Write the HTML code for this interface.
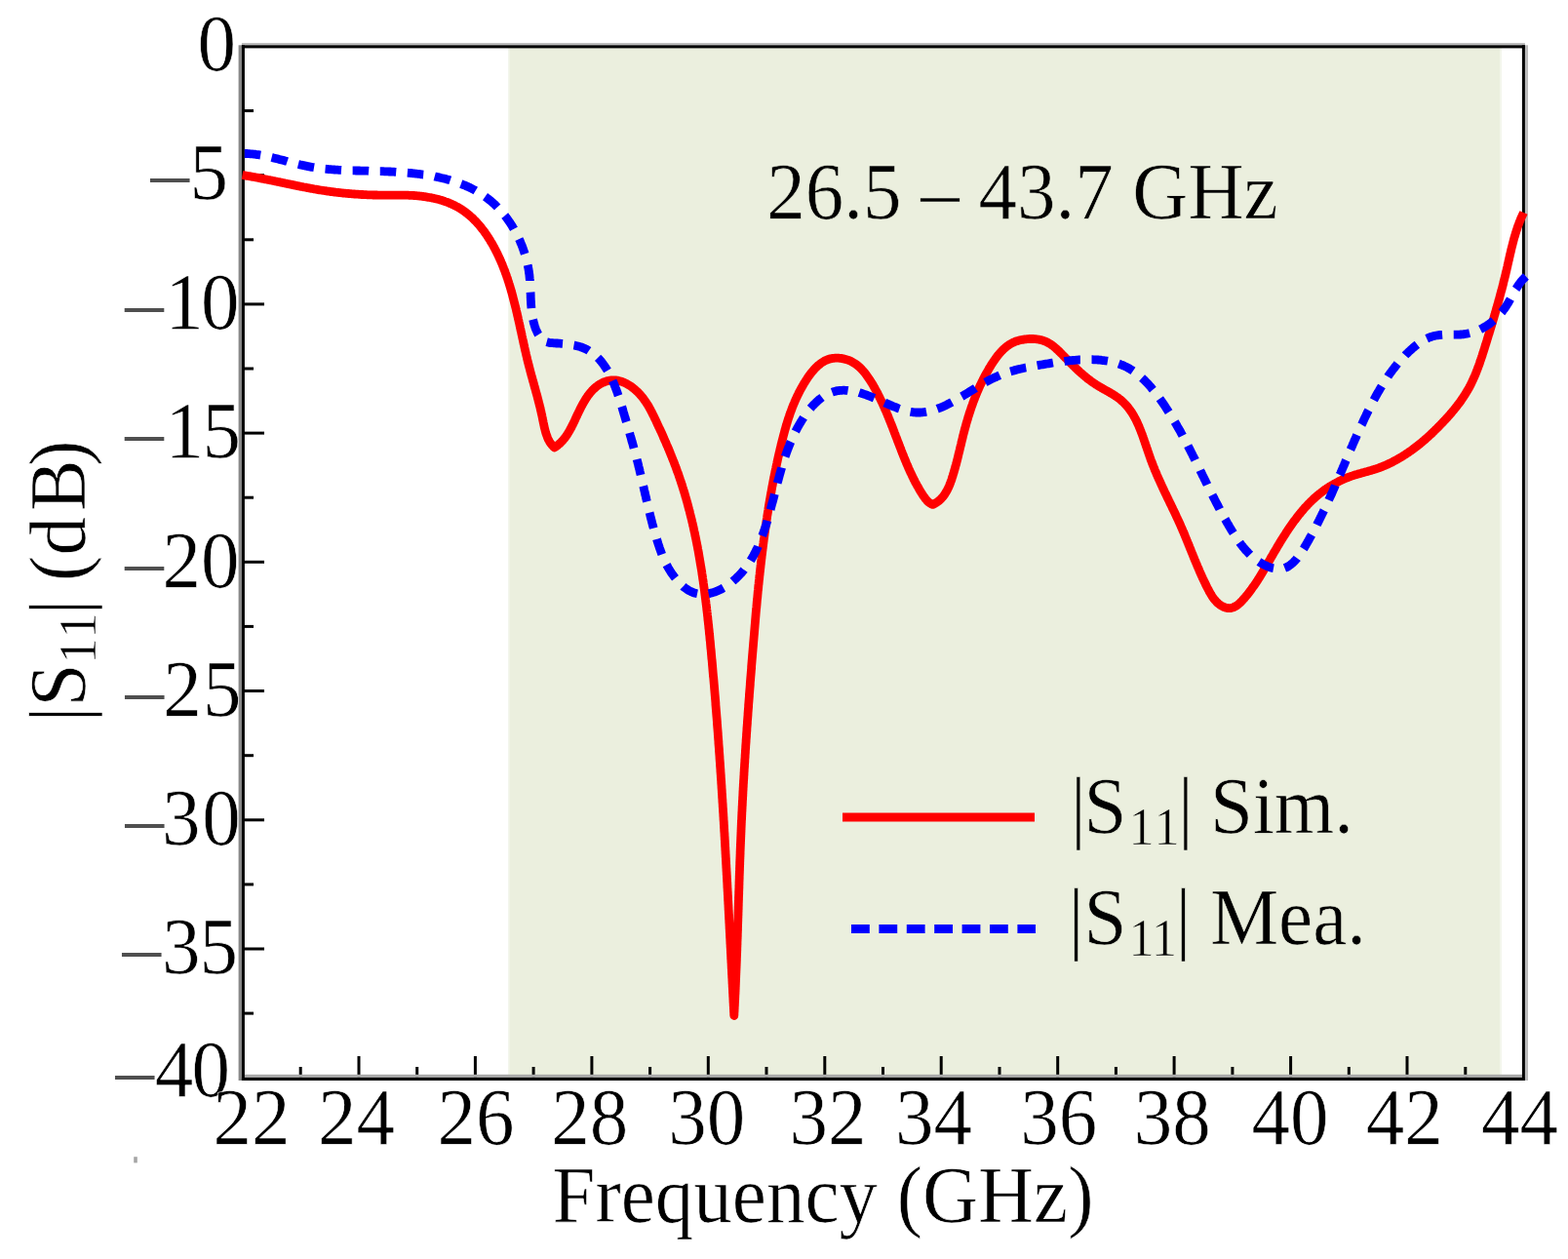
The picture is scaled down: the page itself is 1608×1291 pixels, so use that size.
<!DOCTYPE html>
<html><head><meta charset="utf-8"><title>S11</title>
<style>
html,body{margin:0;padding:0;background:#fff;}
body{width:1608px;height:1291px;overflow:hidden;}
svg{display:block;}
.t{font-family:"Liberation Serif","Times New Roman",serif;font-size:79px;fill:#000;stroke:#fff;stroke-width:0.6px;stroke-linejoin:round;}
.s{stroke:#EBEFDE;}
.d{fill:#505050;stroke:none;}
</style></head><body>
<svg width="1608" height="1291" viewBox="0 0 1608 1291">
<defs><filter id="soft" x="0" y="0" width="1608" height="1291" filterUnits="userSpaceOnUse"><feGaussianBlur stdDeviation="0.55"/></filter></defs>
<g filter="url(#soft)">
<rect x="0" y="0" width="1608" height="1291" fill="#fff"/>
<rect x="521" y="48" width="1018.5" height="1057" fill="#EBEFDE"/>
<rect x="137.2" y="1186.2" width="3.6" height="6.2" fill="#a6a6a6"/>
<rect x="521" y="48" width="1.6" height="1057" fill="#F3F6EC"/>
<rect x="1538" y="48" width="2" height="1057" fill="#F3F6EC"/>
<g stroke="#000" stroke-width="3" fill="none"><line x1="308.2" y1="1105" x2="308.2" y2="1094.0"/><line x1="368.0" y1="1105" x2="368.0" y2="1083.0"/><line x1="427.7" y1="1105" x2="427.7" y2="1094.0"/><line x1="487.4" y1="1105" x2="487.4" y2="1083.0"/><line x1="547.1" y1="1105" x2="547.1" y2="1094.0"/><line x1="606.9" y1="1105" x2="606.9" y2="1083.0"/><line x1="666.6" y1="1105" x2="666.6" y2="1094.0"/><line x1="726.3" y1="1105" x2="726.3" y2="1083.0"/><line x1="786.0" y1="1105" x2="786.0" y2="1094.0"/><line x1="845.8" y1="1105" x2="845.8" y2="1083.0"/><line x1="905.5" y1="1105" x2="905.5" y2="1094.0"/><line x1="965.2" y1="1105" x2="965.2" y2="1083.0"/><line x1="1025.0" y1="1105" x2="1025.0" y2="1094.0"/><line x1="1084.7" y1="1105" x2="1084.7" y2="1083.0"/><line x1="1144.4" y1="1105" x2="1144.4" y2="1094.0"/><line x1="1204.1" y1="1105" x2="1204.1" y2="1083.0"/><line x1="1263.9" y1="1105" x2="1263.9" y2="1094.0"/><line x1="1323.6" y1="1105" x2="1323.6" y2="1083.0"/><line x1="1383.3" y1="1105" x2="1383.3" y2="1094.0"/><line x1="1443.0" y1="1105" x2="1443.0" y2="1083.0"/><line x1="1502.8" y1="1105" x2="1502.8" y2="1094.0"/><line x1="249" y1="113.6" x2="260.0" y2="113.6"/><line x1="249" y1="179.7" x2="271.0" y2="179.7"/><line x1="249" y1="245.8" x2="260.0" y2="245.8"/><line x1="249" y1="311.9" x2="271.0" y2="311.9"/><line x1="249" y1="378.0" x2="260.0" y2="378.0"/><line x1="249" y1="444.1" x2="271.0" y2="444.1"/><line x1="249" y1="510.2" x2="260.0" y2="510.2"/><line x1="249" y1="576.3" x2="271.0" y2="576.3"/><line x1="249" y1="642.4" x2="260.0" y2="642.4"/><line x1="249" y1="708.5" x2="271.0" y2="708.5"/><line x1="249" y1="774.7" x2="260.0" y2="774.7"/><line x1="249" y1="840.8" x2="271.0" y2="840.8"/><line x1="249" y1="906.9" x2="260.0" y2="906.9"/><line x1="249" y1="973.0" x2="271.0" y2="973.0"/><line x1="249" y1="1039.1" x2="260.0" y2="1039.1"/></g>
<rect x="247.9" y="44" width="1316" height="2.3" fill="#bbb"/>
<rect x="244.6" y="46.3" width="3.3" height="1061.7" fill="#888"/>
<rect x="250.9" y="1101.8" width="1310" height="3.1" fill="#aaa"/>
<rect x="1563.9" y="46.3" width="3.1" height="1061.7" fill="#bbb"/>
<rect x="247.9" y="46.3" width="1316" height="3.1" fill="#000"/>
<rect x="247.9" y="1104.9" width="1316" height="3.1" fill="#000"/>
<rect x="247.9" y="46.3" width="3" height="1061.7" fill="#000"/>
<rect x="1560.9" y="46.3" width="3" height="1061.7" fill="#000"/>
<path d="M248.5,179.5 L249.7,179.7 L250.9,179.9 L252.1,180.1 L253.2,180.3 L254.4,180.5 L255.6,180.7 L256.8,180.9 L258.0,181.1 L259.1,181.3 L260.3,181.5 L261.5,181.7 L262.7,182.0 L263.9,182.2 L265.0,182.4 L266.2,182.6 L267.4,182.9 L268.6,183.1 L269.8,183.3 L271.0,183.6 L272.1,183.8 L273.3,184.0 L274.5,184.3 L275.7,184.5 L276.8,184.7 L278.0,185.0 L279.2,185.2 L280.4,185.5 L281.6,185.7 L282.7,186.0 L283.9,186.2 L285.1,186.5 L286.3,186.7 L287.5,186.9 L288.6,187.2 L289.8,187.4 L291.0,187.7 L292.2,187.9 L293.4,188.2 L294.5,188.4 L295.7,188.7 L296.9,188.9 L298.1,189.1 L299.3,189.4 L300.5,189.6 L301.6,189.9 L302.8,190.1 L304.0,190.4 L305.2,190.6 L306.4,190.8 L307.5,191.1 L308.7,191.3 L309.9,191.5 L311.1,191.8 L312.3,192.0 L313.5,192.2 L314.6,192.4 L315.8,192.7 L317.0,192.9 L318.2,193.1 L319.4,193.3 L320.6,193.5 L321.8,193.8 L322.9,194.0 L324.1,194.2 L325.3,194.4 L326.5,194.6 L327.7,194.8 L328.9,195.0 L330.1,195.2 L331.3,195.3 L332.4,195.5 L333.6,195.7 L334.8,195.9 L336.0,196.1 L337.2,196.2 L338.4,196.4 L339.6,196.6 L340.8,196.7 L342.0,196.9 L343.2,197.0 L344.4,197.2 L345.6,197.3 L346.8,197.4 L348.0,197.6 L349.2,197.7 L350.4,197.8 L351.5,198.0 L352.7,198.1 L353.9,198.2 L355.1,198.3 L356.3,198.4 L357.5,198.5 L358.7,198.6 L359.9,198.7 L361.1,198.8 L362.3,198.9 L363.5,199.0 L364.7,199.1 L365.9,199.2 L367.1,199.2 L368.3,199.3 L369.5,199.4 L370.7,199.5 L371.9,199.5 L373.1,199.6 L374.3,199.6 L375.5,199.7 L376.7,199.8 L377.9,199.8 L379.1,199.8 L380.3,199.9 L381.5,199.9 L382.7,200.0 L383.9,200.0 L385.1,200.0 L386.3,200.0 L387.5,200.1 L388.6,200.1 L389.8,200.1 L391.0,200.1 L392.2,200.1 L393.4,200.1 L394.6,200.1 L395.8,200.1 L397.0,200.1 L398.2,200.1 L399.4,200.1 L400.5,200.1 L401.7,200.1 L402.9,200.1 L404.1,200.1 L405.3,200.1 L406.5,200.1 L407.7,200.1 L408.9,200.1 L410.1,200.1 L411.3,200.1 L412.5,200.1 L413.7,200.1 L414.9,200.1 L416.1,200.1 L417.3,200.2 L418.5,200.2 L419.7,200.3 L420.9,200.3 L422.1,200.4 L423.3,200.4 L424.5,200.5 L425.8,200.6 L427.0,200.7 L428.2,200.8 L429.4,200.9 L430.7,201.1 L431.9,201.2 L433.1,201.4 L434.3,201.5 L435.5,201.7 L436.8,201.9 L438.0,202.1 L439.2,202.3 L440.4,202.5 L441.6,202.7 L442.8,202.9 L444.0,203.2 L445.2,203.4 L446.4,203.7 L447.6,204.0 L448.8,204.3 L450.0,204.6 L451.1,204.9 L452.3,205.3 L453.5,205.6 L454.6,206.0 L455.8,206.4 L456.9,206.8 L458.1,207.2 L459.2,207.6 L460.3,208.1 L461.4,208.5 L462.5,209.0 L463.6,209.5 L464.7,210.0 L465.8,210.5 L466.8,211.0 L467.9,211.6 L468.9,212.1 L470.0,212.7 L471.0,213.3 L472.0,213.9 L473.0,214.6 L474.0,215.2 L475.0,215.9 L476.0,216.5 L476.9,217.2 L477.9,218.0 L478.8,218.7 L479.7,219.4 L480.6,220.2 L481.5,220.9 L482.4,221.7 L483.3,222.5 L484.2,223.3 L485.1,224.1 L485.9,225.0 L486.7,225.8 L487.6,226.7 L488.4,227.5 L489.2,228.4 L490.0,229.3 L490.8,230.2 L491.6,231.1 L492.4,232.0 L493.1,233.0 L493.9,233.9 L494.6,234.9 L495.4,235.8 L496.1,236.8 L496.8,237.8 L497.5,238.7 L498.2,239.7 L498.9,240.7 L499.6,241.7 L500.2,242.7 L500.9,243.7 L501.5,244.8 L502.2,245.8 L502.8,246.8 L503.4,247.9 L504.1,248.9 L504.7,250.0 L505.3,251.0 L505.9,252.1 L506.4,253.1 L507.0,254.2 L507.6,255.2 L508.1,256.3 L508.7,257.4 L509.2,258.5 L509.8,259.5 L510.3,260.6 L510.8,261.7 L511.3,262.8 L511.8,263.9 L512.3,265.0 L512.8,266.0 L513.3,267.1 L513.8,268.2 L514.2,269.3 L514.7,270.4 L515.2,271.5 L515.6,272.7 L516.1,273.8 L516.5,274.9 L516.9,276.0 L517.4,277.1 L517.8,278.2 L518.2,279.4 L518.6,280.5 L519.0,281.6 L519.4,282.7 L519.8,283.9 L520.2,285.0 L520.6,286.1 L520.9,287.3 L521.3,288.4 L521.7,289.6 L522.0,290.7 L522.4,291.8 L522.7,293.0 L523.1,294.1 L523.4,295.3 L523.8,296.4 L524.1,297.6 L524.4,298.7 L524.8,299.9 L525.1,301.1 L525.4,302.2 L525.7,303.4 L526.0,304.5 L526.3,305.7 L526.6,306.9 L526.9,308.0 L527.2,309.2 L527.5,310.4 L527.8,311.5 L528.1,312.7 L528.4,313.9 L528.7,315.0 L529.0,316.2 L529.3,317.4 L529.5,318.5 L529.8,319.7 L530.1,320.9 L530.4,322.1 L530.6,323.2 L530.9,324.4 L531.2,325.6 L531.4,326.8 L531.7,328.0 L532.0,329.1 L532.2,330.3 L532.5,331.5 L532.8,332.7 L533.0,333.9 L533.3,335.0 L533.5,336.2 L533.8,337.4 L534.0,338.6 L534.3,339.8 L534.6,340.9 L534.8,342.1 L535.1,343.3 L535.3,344.5 L535.6,345.7 L535.8,346.8 L536.1,348.0 L536.4,349.2 L536.6,350.4 L536.9,351.6 L537.1,352.7 L537.4,353.9 L537.7,355.1 L537.9,356.3 L538.2,357.5 L538.4,358.6 L538.7,359.8 L539.0,361.0 L539.3,362.2 L539.5,363.3 L539.8,364.5 L540.1,365.7 L540.4,366.9 L540.6,368.0 L540.9,369.2 L541.2,370.4 L541.5,371.5 L541.8,372.7 L542.1,373.9 L542.4,375.0 L542.7,376.2 L543.0,377.3 L543.3,378.5 L543.6,379.7 L543.9,380.8 L544.2,382.0 L544.5,383.1 L544.8,384.3 L545.1,385.5 L545.5,386.6 L545.8,387.8 L546.1,388.9 L546.4,390.1 L546.7,391.2 L547.1,392.4 L547.4,393.5 L547.7,394.7 L548.0,395.8 L548.3,397.0 L548.7,398.2 L549.0,399.3 L549.3,400.5 L549.6,401.6 L549.9,402.8 L550.3,403.9 L550.6,405.1 L550.9,406.2 L551.2,407.4 L551.5,408.6 L551.8,409.7 L552.1,410.9 L552.4,412.0 L552.7,413.2 L553.0,414.4 L553.3,415.5 L553.6,416.7 L553.9,417.9 L554.2,419.0 L554.4,420.2 L554.7,421.4 L555.0,422.6 L555.2,423.7 L555.5,424.9 L555.8,426.1 L556.0,427.3 L556.3,428.5 L556.5,429.7 L556.7,430.9 L557.0,432.0 L557.2,433.2 L557.5,434.4 L557.7,435.6 L558.0,436.8 L558.2,438.0 L558.5,439.1 L558.8,440.3 L559.1,441.5 L559.4,442.6 L559.7,443.8 L560.1,444.9 L560.5,446.0 L560.9,447.1 L561.3,448.2 L561.7,449.3 L562.2,450.4 L562.8,451.4 L563.3,452.4 L563.9,453.4 L564.6,454.4 L565.3,455.4 L566.0,456.3 L566.8,457.2 L567.6,458.1 L568.5,459.0 L569.5,458.3 L570.5,457.6 L571.5,456.9 L572.4,456.1 L573.3,455.4 L574.2,454.6 L575.0,453.8 L575.8,453.0 L576.6,452.1 L577.4,451.3 L578.1,450.4 L578.9,449.5 L579.6,448.6 L580.2,447.7 L580.9,446.7 L581.6,445.8 L582.2,444.8 L582.8,443.8 L583.4,442.8 L584.0,441.8 L584.5,440.8 L585.1,439.8 L585.7,438.7 L586.2,437.7 L586.7,436.6 L587.3,435.6 L587.8,434.5 L588.3,433.4 L588.9,432.3 L589.4,431.2 L589.9,430.1 L590.4,428.9 L590.9,427.8 L591.5,426.7 L592.0,425.5 L592.5,424.4 L593.1,423.3 L593.6,422.1 L594.2,421.0 L594.8,419.8 L595.3,418.7 L595.9,417.5 L596.5,416.4 L597.1,415.3 L597.7,414.2 L598.3,413.1 L599.0,412.0 L599.6,410.9 L600.3,409.8 L600.9,408.7 L601.6,407.7 L602.3,406.7 L603.0,405.6 L603.8,404.7 L604.5,403.7 L605.3,402.7 L606.1,401.8 L606.9,400.9 L607.7,400.0 L608.5,399.2 L609.4,398.4 L610.3,397.6 L611.2,396.8 L612.1,396.1 L613.0,395.4 L614.0,394.7 L615.0,394.1 L616.0,393.5 L617.0,392.9 L618.0,392.4 L619.1,392.0 L620.1,391.5 L621.2,391.2 L622.2,390.8 L623.3,390.5 L624.4,390.3 L625.5,390.1 L626.6,390.0 L627.7,389.9 L628.8,389.8 L629.9,389.8 L631.0,389.9 L632.1,390.0 L633.2,390.2 L634.3,390.4 L635.4,390.7 L636.5,391.0 L637.6,391.3 L638.6,391.7 L639.7,392.2 L640.8,392.6 L641.8,393.1 L642.9,393.7 L643.9,394.3 L645.0,394.9 L646.0,395.5 L647.0,396.2 L648.0,396.9 L649.0,397.7 L649.9,398.4 L650.9,399.2 L651.8,400.0 L652.8,400.9 L653.7,401.7 L654.6,402.6 L655.4,403.5 L656.3,404.4 L657.1,405.4 L657.9,406.3 L658.7,407.2 L659.5,408.2 L660.2,409.2 L660.9,410.2 L661.6,411.2 L662.3,412.2 L663.0,413.2 L663.6,414.2 L664.3,415.2 L664.9,416.3 L665.5,417.3 L666.1,418.4 L666.7,419.4 L667.2,420.5 L667.8,421.6 L668.3,422.6 L668.9,423.7 L669.4,424.8 L670.0,425.9 L670.5,426.9 L671.0,428.0 L671.5,429.1 L672.1,430.2 L672.6,431.3 L673.1,432.4 L673.6,433.5 L674.1,434.6 L674.6,435.7 L675.1,436.8 L675.6,437.9 L676.2,439.0 L676.7,440.1 L677.2,441.2 L677.7,442.2 L678.2,443.3 L678.7,444.4 L679.2,445.5 L679.7,446.6 L680.2,447.8 L680.6,448.9 L681.1,450.0 L681.6,451.1 L682.1,452.2 L682.6,453.3 L683.1,454.4 L683.5,455.5 L684.0,456.6 L684.5,457.7 L685.0,458.8 L685.4,459.9 L685.9,461.0 L686.4,462.1 L686.8,463.3 L687.3,464.4 L687.7,465.5 L688.2,466.6 L688.6,467.7 L689.1,468.8 L689.5,470.0 L690.0,471.1 L690.4,472.2 L690.9,473.3 L691.3,474.4 L691.7,475.6 L692.1,476.7 L692.6,477.8 L693.0,478.9 L693.4,480.1 L693.8,481.2 L694.2,482.3 L694.6,483.5 L695.1,484.6 L695.5,485.7 L695.9,486.8 L696.2,488.0 L696.6,489.1 L697.0,490.2 L697.4,491.4 L697.8,492.5 L698.2,493.7 L698.5,494.8 L698.9,495.9 L699.3,497.1 L699.7,498.2 L700.0,499.4 L700.4,500.5 L700.7,501.6 L701.1,502.8 L701.4,503.9 L701.8,505.1 L702.1,506.2 L702.5,507.4 L702.8,508.5 L703.1,509.7 L703.5,510.8 L703.8,512.0 L704.1,513.1 L704.5,514.3 L704.8,515.4 L705.1,516.6 L705.4,517.7 L705.7,518.9 L706.0,520.1 L706.3,521.2 L706.6,522.4 L707.0,523.5 L707.3,524.7 L707.5,525.8 L707.8,527.0 L708.1,528.2 L708.4,529.3 L708.7,530.5 L709.0,531.7 L709.3,532.8 L709.6,534.0 L709.8,535.1 L710.1,536.3 L710.4,537.5 L710.6,538.6 L710.9,539.8 L711.2,541.0 L711.4,542.2 L711.7,543.3 L711.9,544.5 L712.2,545.7 L712.5,546.8 L712.7,548.0 L712.9,549.2 L713.2,550.4 L713.4,551.5 L713.7,552.7 L713.9,553.9 L714.1,555.0 L714.4,556.2 L714.6,557.4 L714.8,558.6 L715.1,559.8 L715.3,560.9 L715.5,562.1 L715.7,563.3 L716.0,564.5 L716.2,565.7 L716.4,566.8 L716.6,568.0 L716.8,569.2 L717.0,570.4 L717.2,571.6 L717.4,572.7 L717.6,573.9 L717.8,575.1 L718.0,576.3 L718.2,577.5 L718.4,578.7 L718.6,579.9 L718.8,581.0 L719.0,582.2 L719.2,583.4 L719.4,584.6 L719.6,585.8 L719.8,587.0 L719.9,588.2 L720.1,589.4 L720.3,590.5 L720.5,591.7 L720.6,592.9 L720.8,594.1 L721.0,595.3 L721.2,596.5 L721.3,597.7 L721.5,598.9 L721.7,600.1 L721.8,601.3 L722.0,602.5 L722.2,603.6 L722.3,604.8 L722.5,606.0 L722.6,607.2 L722.8,608.4 L722.9,609.6 L723.1,610.8 L723.2,612.0 L723.4,613.2 L723.5,614.4 L723.7,615.6 L723.8,616.8 L724.0,618.0 L724.1,619.2 L724.3,620.4 L724.4,621.6 L724.6,622.8 L724.7,624.0 L724.8,625.2 L725.0,626.4 L725.1,627.6 L725.3,628.8 L725.4,630.0 L725.5,631.2 L725.7,632.4 L725.8,633.6 L725.9,634.8 L726.0,636.0 L726.2,637.1 L726.3,638.3 L726.4,639.5 L726.6,640.7 L726.7,641.9 L726.8,643.1 L726.9,644.3 L727.1,645.5 L727.2,646.7 L727.3,647.9 L727.4,649.1 L727.5,650.3 L727.7,651.5 L727.8,652.7 L727.9,653.9 L728.0,655.1 L728.1,656.3 L728.3,657.5 L728.4,658.7 L728.5,659.9 L728.6,661.1 L728.7,662.4 L728.8,663.6 L728.9,664.8 L729.1,666.0 L729.2,667.2 L729.3,668.4 L729.4,669.6 L729.5,670.8 L729.6,672.0 L729.7,673.2 L729.8,674.4 L729.9,675.6 L730.1,676.8 L730.2,678.0 L730.3,679.2 L730.4,680.4 L730.5,681.6 L730.6,682.8 L730.7,684.0 L730.8,685.2 L730.9,686.4 L731.0,687.6 L731.1,688.8 L731.2,690.0 L731.3,691.2 L731.4,692.4 L731.5,693.6 L731.7,694.8 L731.8,696.0 L731.9,697.2 L732.0,698.4 L732.1,699.6 L732.2,700.8 L732.3,702.0 L732.4,703.2 L732.5,704.4 L732.6,705.6 L732.7,706.8 L732.8,708.0 L732.9,709.2 L733.0,710.4 L733.1,711.6 L733.2,712.8 L733.3,713.9 L733.4,715.1 L733.5,716.3 L733.6,717.5 L733.7,718.7 L733.8,719.9 L733.9,721.1 L733.9,722.3 L734.0,723.5 L734.1,724.7 L734.2,725.9 L734.3,727.1 L734.4,728.3 L734.5,729.5 L734.6,730.7 L734.7,731.9 L734.8,733.1 L734.9,734.3 L735.0,735.5 L735.1,736.7 L735.2,737.9 L735.3,739.1 L735.4,740.3 L735.4,741.5 L735.5,742.7 L735.6,743.9 L735.7,745.1 L735.8,746.3 L735.9,747.5 L736.0,748.7 L736.1,749.9 L736.2,751.1 L736.3,752.3 L736.3,753.5 L736.4,754.7 L736.5,755.9 L736.6,757.1 L736.7,758.3 L736.8,759.5 L736.9,760.7 L736.9,761.9 L737.0,763.1 L737.1,764.3 L737.2,765.5 L737.3,766.7 L737.4,767.9 L737.5,769.1 L737.5,770.3 L737.6,771.5 L737.7,772.7 L737.8,773.9 L737.9,775.1 L738.0,776.3 L738.0,777.5 L738.1,778.7 L738.2,779.9 L738.3,781.1 L738.4,782.3 L738.5,783.5 L738.5,784.7 L738.6,785.9 L738.7,787.1 L738.8,788.3 L738.9,789.5 L738.9,790.7 L739.0,791.9 L739.1,793.1 L739.2,794.3 L739.3,795.5 L739.3,796.7 L739.4,797.9 L739.5,799.1 L739.6,800.3 L739.7,801.5 L739.7,802.7 L739.8,803.9 L739.9,805.1 L740.0,806.3 L740.0,807.5 L740.1,808.7 L740.2,809.9 L740.3,811.1 L740.3,812.3 L740.4,813.5 L740.5,814.7 L740.6,815.9 L740.6,817.1 L740.7,818.2 L740.8,819.4 L740.9,820.6 L740.9,821.8 L741.0,823.0 L741.1,824.2 L741.2,825.4 L741.2,826.6 L741.3,827.8 L741.4,829.0 L741.5,830.2 L741.5,831.4 L741.6,832.6 L741.7,833.8 L741.8,835.0 L741.8,836.2 L741.9,837.4 L742.0,838.6 L742.0,839.8 L742.1,841.0 L742.2,842.2 L742.3,843.4 L742.3,844.6 L742.4,845.8 L742.5,847.0 L742.5,848.2 L742.6,849.4 L742.7,850.6 L742.7,851.8 L742.8,853.0 L742.9,854.2 L743.0,855.4 L743.0,856.6 L743.1,857.8 L743.2,859.0 L743.2,860.2 L743.3,861.4 L743.4,862.6 L743.4,863.8 L743.5,865.0 L743.6,866.2 L743.6,867.4 L743.7,868.6 L743.8,869.8 L743.8,871.0 L743.9,872.2 L744.0,873.4 L744.0,874.6 L744.1,875.8 L744.2,877.0 L744.2,878.2 L744.3,879.4 L744.4,880.6 L744.4,881.8 L744.5,883.0 L744.6,884.2 L744.6,885.4 L744.7,886.6 L744.8,887.8 L744.8,889.0 L744.9,890.2 L745.0,891.4 L745.0,892.6 L745.1,893.8 L745.2,895.0 L745.2,896.2 L745.3,897.4 L745.4,898.6 L745.4,899.8 L745.5,901.0 L745.6,902.2 L745.6,903.4 L745.7,904.6 L745.8,905.8 L745.8,907.0 L745.9,908.2 L745.9,909.4 L746.0,910.6 L746.1,911.8 L746.1,913.0 L746.2,914.2 L746.3,915.4 L746.3,916.6 L746.4,917.8 L746.5,919.0 L746.5,920.2 L746.6,921.4 L746.6,922.6 L746.7,923.8 L746.8,925.0 L746.8,926.2 L746.9,927.4 L747.0,928.6 L747.0,929.8 L747.1,931.0 L747.1,932.2 L747.2,933.4 L747.3,934.6 L747.3,935.8 L747.4,937.0 L747.5,938.2 L747.5,939.4 L747.6,940.6 L747.6,941.8 L747.7,943.0 L747.8,944.2 L747.8,945.4 L747.9,946.6 L748.0,947.8 L748.0,949.0 L748.1,950.2 L748.1,951.4 L748.2,952.6 L748.3,953.8 L748.3,955.0 L748.4,956.2 L748.5,957.4 L748.5,958.6 L748.6,959.8 L748.6,961.0 L748.7,962.2 L748.8,963.4 L748.8,964.6 L748.9,965.8 L748.9,967.0 L749.0,968.2 L749.1,969.4 L749.1,970.6 L749.2,971.8 L749.3,973.0 L749.3,974.2 L749.4,975.4 L749.4,976.6 L749.5,977.8 L749.6,979.0 L749.6,980.2 L749.7,981.4 L749.7,982.6 L749.8,983.8 L749.9,985.0 L749.9,986.2 L750.0,987.4 L750.1,988.6 L750.1,989.8 L750.2,991.0 L750.2,992.2 L750.3,993.4 L750.4,994.6 L750.4,995.8 L750.5,997.0 L750.5,998.2 L750.6,999.4 L750.7,1000.6 L750.7,1001.8 L750.8,1003.0 L750.9,1004.2 L750.9,1005.4 L751.0,1006.6 L751.0,1007.8 L751.1,1009.0 L751.2,1010.2 L751.2,1011.4 L751.3,1012.6 L751.4,1013.8 L751.4,1015.0 L751.5,1016.2 L751.5,1017.4 L751.6,1018.6 L751.7,1019.8 L751.7,1021.0 L751.8,1022.3 L751.9,1023.5 L751.9,1024.7 L752.0,1025.9 L752.0,1027.1 L752.1,1028.3 L752.2,1029.5 L752.2,1030.7 L752.3,1031.9 L752.4,1033.1 L752.4,1034.3 L752.5,1035.5 L752.5,1036.7 L752.6,1037.9 L752.7,1039.1 L752.7,1040.3 L752.8,1041.5 L752.9,1040.3 L752.9,1039.1 L753.0,1037.9 L753.1,1036.7 L753.1,1035.5 L753.2,1034.3 L753.2,1033.1 L753.3,1031.9 L753.4,1030.7 L753.4,1029.5 L753.5,1028.3 L753.5,1027.1 L753.6,1025.9 L753.7,1024.7 L753.7,1023.5 L753.8,1022.3 L753.8,1021.1 L753.9,1019.9 L754.0,1018.7 L754.0,1017.5 L754.1,1016.3 L754.1,1015.1 L754.2,1013.9 L754.2,1012.7 L754.3,1011.5 L754.3,1010.3 L754.4,1009.1 L754.4,1007.9 L754.5,1006.7 L754.5,1005.5 L754.6,1004.3 L754.6,1003.1 L754.7,1001.9 L754.7,1000.7 L754.8,999.5 L754.8,998.3 L754.9,997.1 L754.9,995.9 L755.0,994.7 L755.0,993.5 L755.1,992.3 L755.1,991.1 L755.2,989.9 L755.2,988.7 L755.3,987.5 L755.3,986.3 L755.4,985.1 L755.4,983.9 L755.4,982.7 L755.5,981.5 L755.5,980.3 L755.6,979.1 L755.6,977.9 L755.7,976.7 L755.7,975.5 L755.8,974.3 L755.8,973.1 L755.8,971.9 L755.9,970.7 L755.9,969.5 L756.0,968.3 L756.0,967.1 L756.0,965.9 L756.1,964.7 L756.1,963.5 L756.2,962.3 L756.2,961.1 L756.3,959.9 L756.3,958.7 L756.3,957.5 L756.4,956.3 L756.4,955.1 L756.5,953.8 L756.5,952.6 L756.5,951.4 L756.6,950.2 L756.6,949.0 L756.6,947.8 L756.7,946.6 L756.7,945.4 L756.8,944.2 L756.8,943.0 L756.8,941.8 L756.9,940.6 L756.9,939.4 L757.0,938.2 L757.0,937.0 L757.0,935.8 L757.1,934.6 L757.1,933.4 L757.2,932.2 L757.2,931.0 L757.2,929.8 L757.3,928.6 L757.3,927.4 L757.3,926.2 L757.4,925.0 L757.4,923.8 L757.5,922.6 L757.5,921.4 L757.5,920.2 L757.6,919.0 L757.6,917.8 L757.7,916.6 L757.7,915.4 L757.7,914.2 L757.8,913.0 L757.8,911.8 L757.9,910.5 L757.9,909.3 L757.9,908.1 L758.0,906.9 L758.0,905.7 L758.0,904.5 L758.1,903.3 L758.1,902.1 L758.2,900.9 L758.2,899.7 L758.2,898.5 L758.3,897.3 L758.3,896.1 L758.4,894.9 L758.4,893.7 L758.5,892.5 L758.5,891.3 L758.5,890.1 L758.6,888.9 L758.6,887.7 L758.7,886.5 L758.7,885.3 L758.7,884.1 L758.8,882.9 L758.8,881.7 L758.9,880.5 L758.9,879.3 L759.0,878.1 L759.0,876.9 L759.1,875.7 L759.1,874.5 L759.1,873.3 L759.2,872.1 L759.2,870.9 L759.3,869.7 L759.3,868.5 L759.4,867.3 L759.4,866.1 L759.5,864.9 L759.5,863.7 L759.6,862.5 L759.6,861.3 L759.7,860.1 L759.7,858.9 L759.8,857.7 L759.8,856.5 L759.9,855.3 L759.9,854.1 L760.0,852.9 L760.0,851.7 L760.1,850.4 L760.1,849.2 L760.2,848.0 L760.2,846.8 L760.3,845.6 L760.3,844.4 L760.4,843.2 L760.4,842.0 L760.5,840.8 L760.6,839.6 L760.6,838.4 L760.7,837.2 L760.7,836.0 L760.8,834.8 L760.8,833.6 L760.9,832.4 L761.0,831.2 L761.0,830.0 L761.1,828.8 L761.1,827.6 L761.2,826.5 L761.3,825.3 L761.3,824.1 L761.4,822.9 L761.4,821.7 L761.5,820.5 L761.6,819.3 L761.6,818.1 L761.7,816.9 L761.8,815.7 L761.8,814.5 L761.9,813.3 L761.9,812.1 L762.0,810.9 L762.1,809.7 L762.1,808.5 L762.2,807.3 L762.3,806.1 L762.3,804.9 L762.4,803.7 L762.5,802.5 L762.5,801.3 L762.6,800.1 L762.7,798.9 L762.8,797.7 L762.8,796.5 L762.9,795.3 L763.0,794.1 L763.0,792.9 L763.1,791.7 L763.2,790.5 L763.2,789.3 L763.3,788.1 L763.4,786.9 L763.5,785.7 L763.5,784.5 L763.6,783.3 L763.7,782.1 L763.8,780.9 L763.8,779.7 L763.9,778.5 L764.0,777.3 L764.1,776.1 L764.1,774.9 L764.2,773.7 L764.3,772.5 L764.4,771.3 L764.4,770.1 L764.5,768.9 L764.6,767.7 L764.7,766.5 L764.7,765.3 L764.8,764.1 L764.9,762.9 L765.0,761.7 L765.1,760.5 L765.1,759.4 L765.2,758.2 L765.3,757.0 L765.4,755.8 L765.5,754.6 L765.5,753.4 L765.6,752.2 L765.7,751.0 L765.8,749.8 L765.9,748.6 L765.9,747.4 L766.0,746.2 L766.1,745.0 L766.2,743.8 L766.3,742.6 L766.4,741.4 L766.4,740.2 L766.5,739.0 L766.6,737.8 L766.7,736.6 L766.8,735.4 L766.9,734.2 L767.0,733.0 L767.0,731.8 L767.1,730.6 L767.2,729.4 L767.3,728.2 L767.4,727.0 L767.5,725.8 L767.6,724.6 L767.6,723.4 L767.7,722.2 L767.8,721.0 L767.9,719.8 L768.0,718.6 L768.1,717.4 L768.2,716.2 L768.3,715.0 L768.4,713.8 L768.4,712.6 L768.5,711.4 L768.6,710.3 L768.7,709.1 L768.8,707.9 L768.9,706.7 L769.0,705.5 L769.1,704.3 L769.2,703.1 L769.3,701.9 L769.3,700.7 L769.4,699.5 L769.5,698.3 L769.6,697.1 L769.7,695.9 L769.8,694.7 L769.9,693.5 L770.0,692.3 L770.1,691.1 L770.2,689.9 L770.3,688.7 L770.4,687.5 L770.5,686.3 L770.6,685.1 L770.6,683.9 L770.7,682.7 L770.8,681.5 L770.9,680.3 L771.0,679.1 L771.1,677.9 L771.2,676.7 L771.3,675.5 L771.4,674.3 L771.5,673.1 L771.6,671.9 L771.7,670.7 L771.8,669.5 L771.9,668.3 L772.0,667.1 L772.1,665.9 L772.2,664.7 L772.3,663.5 L772.4,662.3 L772.5,661.1 L772.6,659.9 L772.7,658.7 L772.8,657.5 L772.9,656.3 L773.0,655.1 L773.1,653.9 L773.2,652.7 L773.3,651.5 L773.4,650.3 L773.5,649.1 L773.6,647.9 L773.7,646.7 L773.8,645.5 L773.9,644.3 L774.0,643.1 L774.1,641.9 L774.2,640.7 L774.3,639.5 L774.4,638.3 L774.5,637.1 L774.6,635.9 L774.7,634.7 L774.8,633.5 L774.9,632.3 L775.0,631.1 L775.1,629.9 L775.2,628.7 L775.3,627.5 L775.4,626.3 L775.5,625.1 L775.6,623.9 L775.8,622.7 L775.9,621.5 L776.0,620.3 L776.1,619.1 L776.2,617.9 L776.3,616.7 L776.4,615.5 L776.5,614.3 L776.7,613.1 L776.8,611.9 L776.9,610.7 L777.0,609.5 L777.1,608.3 L777.2,607.1 L777.3,605.9 L777.5,604.7 L777.6,603.5 L777.7,602.3 L777.8,601.1 L777.9,599.9 L778.1,598.7 L778.2,597.5 L778.3,596.3 L778.4,595.1 L778.6,593.9 L778.7,592.8 L778.8,591.6 L778.9,590.4 L779.1,589.2 L779.2,588.0 L779.3,586.8 L779.5,585.6 L779.6,584.4 L779.7,583.2 L779.9,582.0 L780.0,580.8 L780.1,579.6 L780.3,578.4 L780.4,577.2 L780.5,576.0 L780.7,574.8 L780.8,573.6 L781.0,572.4 L781.1,571.2 L781.2,570.0 L781.4,568.8 L781.5,567.6 L781.7,566.5 L781.8,565.3 L782.0,564.1 L782.1,562.9 L782.3,561.7 L782.4,560.5 L782.6,559.3 L782.7,558.1 L782.9,556.9 L783.0,555.7 L783.2,554.5 L783.3,553.3 L783.5,552.1 L783.7,550.9 L783.8,549.8 L784.0,548.6 L784.1,547.4 L784.3,546.2 L784.5,545.0 L784.6,543.8 L784.8,542.6 L785.0,541.4 L785.1,540.2 L785.3,539.1 L785.5,537.9 L785.7,536.7 L785.8,535.5 L786.0,534.3 L786.2,533.1 L786.4,531.9 L786.6,530.7 L786.7,529.6 L786.9,528.4 L787.1,527.2 L787.3,526.0 L787.5,524.8 L787.7,523.6 L787.9,522.4 L788.0,521.3 L788.2,520.1 L788.4,518.9 L788.6,517.7 L788.8,516.5 L789.0,515.3 L789.2,514.2 L789.4,513.0 L789.6,511.8 L789.8,510.6 L790.0,509.4 L790.2,508.2 L790.4,507.1 L790.7,505.9 L790.9,504.7 L791.1,503.5 L791.3,502.3 L791.5,501.2 L791.7,500.0 L791.9,498.8 L792.2,497.6 L792.4,496.4 L792.6,495.3 L792.8,494.1 L793.1,492.9 L793.3,491.7 L793.5,490.6 L793.7,489.4 L794.0,488.2 L794.2,487.0 L794.5,485.9 L794.7,484.7 L794.9,483.5 L795.2,482.3 L795.4,481.2 L795.7,480.0 L795.9,478.8 L796.2,477.7 L796.4,476.5 L796.7,475.3 L796.9,474.1 L797.2,473.0 L797.4,471.8 L797.7,470.6 L797.9,469.5 L798.2,468.3 L798.5,467.1 L798.7,466.0 L799.0,464.8 L799.3,463.6 L799.6,462.5 L799.8,461.3 L800.1,460.1 L800.4,459.0 L800.7,457.8 L800.9,456.6 L801.2,455.5 L801.5,454.3 L801.8,453.1 L802.1,452.0 L802.4,450.8 L802.7,449.7 L803.0,448.5 L803.3,447.3 L803.6,446.2 L803.9,445.0 L804.2,443.9 L804.5,442.7 L804.8,441.6 L805.1,440.4 L805.5,439.3 L805.8,438.1 L806.1,436.9 L806.5,435.8 L806.8,434.7 L807.2,433.5 L807.5,432.4 L807.9,431.2 L808.2,430.1 L808.6,428.9 L809.0,427.8 L809.4,426.7 L809.8,425.5 L810.1,424.4 L810.5,423.3 L811.0,422.1 L811.4,421.0 L811.8,419.9 L812.2,418.8 L812.6,417.6 L813.1,416.5 L813.5,415.4 L814.0,414.3 L814.5,413.2 L814.9,412.1 L815.4,411.0 L815.9,409.9 L816.4,408.8 L816.9,407.7 L817.4,406.6 L817.9,405.5 L818.5,404.4 L819.0,403.3 L819.6,402.2 L820.1,401.1 L820.7,400.0 L821.3,399.0 L821.9,397.9 L822.5,396.8 L823.1,395.7 L823.7,394.7 L824.3,393.6 L825.0,392.6 L825.6,391.5 L826.3,390.5 L826.9,389.4 L827.6,388.4 L828.3,387.3 L829.0,386.3 L829.8,385.3 L830.5,384.3 L831.3,383.3 L832.0,382.3 L832.8,381.3 L833.6,380.4 L834.4,379.4 L835.2,378.5 L836.0,377.6 L836.9,376.8 L837.8,375.9 L838.6,375.1 L839.5,374.3 L840.5,373.6 L841.4,372.8 L842.3,372.2 L843.3,371.5 L844.3,370.9 L845.3,370.3 L846.3,369.8 L847.4,369.3 L848.4,368.9 L849.5,368.5 L850.6,368.1 L851.7,367.8 L852.9,367.6 L854.0,367.4 L855.2,367.3 L856.4,367.2 L857.6,367.1 L858.8,367.1 L860.0,367.2 L861.2,367.3 L862.4,367.4 L863.6,367.6 L864.8,367.9 L866.0,368.1 L867.2,368.5 L868.4,368.8 L869.6,369.2 L870.7,369.6 L871.8,370.1 L872.9,370.6 L874.0,371.2 L875.0,371.8 L876.1,372.4 L877.1,373.0 L878.0,373.7 L879.0,374.4 L879.9,375.2 L880.8,375.9 L881.7,376.7 L882.6,377.6 L883.4,378.4 L884.2,379.3 L885.0,380.2 L885.8,381.1 L886.6,382.0 L887.3,382.9 L888.1,383.9 L888.8,384.9 L889.5,385.9 L890.2,386.9 L890.9,387.9 L891.6,388.9 L892.2,389.9 L892.9,391.0 L893.5,392.0 L894.2,393.0 L894.8,394.1 L895.4,395.1 L896.0,396.2 L896.6,397.3 L897.2,398.3 L897.8,399.4 L898.4,400.4 L898.9,401.5 L899.5,402.6 L900.1,403.6 L900.6,404.7 L901.1,405.8 L901.7,406.8 L902.2,407.9 L902.7,409.0 L903.3,410.1 L903.8,411.2 L904.3,412.2 L904.8,413.3 L905.3,414.4 L905.8,415.5 L906.3,416.6 L906.8,417.7 L907.3,418.8 L907.7,419.9 L908.2,420.9 L908.7,422.0 L909.2,423.1 L909.6,424.2 L910.1,425.3 L910.5,426.4 L911.0,427.5 L911.4,428.6 L911.9,429.7 L912.3,430.9 L912.8,432.0 L913.2,433.1 L913.7,434.2 L914.1,435.3 L914.5,436.4 L915.0,437.5 L915.4,438.6 L915.8,439.7 L916.3,440.9 L916.7,442.0 L917.1,443.1 L917.5,444.2 L918.0,445.3 L918.4,446.5 L918.8,447.6 L919.3,448.7 L919.7,449.8 L920.1,450.9 L920.5,452.1 L921.0,453.2 L921.4,454.3 L921.8,455.4 L922.3,456.6 L922.7,457.7 L923.1,458.8 L923.6,459.9 L924.0,461.1 L924.4,462.2 L924.9,463.3 L925.3,464.5 L925.8,465.6 L926.2,466.7 L926.7,467.9 L927.1,469.0 L927.6,470.1 L928.0,471.2 L928.5,472.4 L929.0,473.5 L929.4,474.6 L929.9,475.7 L930.4,476.9 L930.9,478.0 L931.4,479.1 L931.8,480.2 L932.3,481.3 L932.8,482.4 L933.3,483.5 L933.8,484.6 L934.4,485.7 L934.9,486.8 L935.4,487.9 L935.9,489.0 L936.5,490.1 L937.0,491.2 L937.5,492.2 L938.1,493.3 L938.6,494.4 L939.2,495.4 L939.8,496.5 L940.3,497.5 L940.9,498.6 L941.5,499.6 L942.1,500.6 L942.7,501.7 L943.3,502.7 L943.9,503.7 L944.5,504.7 L945.2,505.7 L945.8,506.7 L946.4,507.7 L947.1,508.7 L947.7,509.6 L948.4,510.6 L949.1,511.5 L949.9,512.4 L950.6,513.3 L951.4,514.1 L952.3,514.9 L953.3,515.6 L954.3,516.3 L955.3,516.9 L956.5,517.4 L957.6,516.9 L958.7,516.3 L959.8,515.7 L960.8,515.1 L961.7,514.4 L962.7,513.7 L963.6,512.9 L964.4,512.1 L965.2,511.3 L966.0,510.4 L966.8,509.6 L967.5,508.7 L968.2,507.7 L968.9,506.8 L969.5,505.8 L970.1,504.8 L970.7,503.7 L971.3,502.7 L971.8,501.6 L972.4,500.5 L972.9,499.4 L973.4,498.3 L973.8,497.2 L974.3,496.0 L974.7,494.9 L975.1,493.7 L975.6,492.6 L976.0,491.4 L976.3,490.2 L976.7,489.0 L977.1,487.9 L977.4,486.7 L977.8,485.5 L978.2,484.3 L978.5,483.1 L978.8,482.0 L979.2,480.8 L979.5,479.6 L979.8,478.4 L980.1,477.3 L980.5,476.1 L980.8,474.9 L981.1,473.7 L981.4,472.6 L981.7,471.4 L982.0,470.2 L982.3,469.0 L982.6,467.9 L982.8,466.7 L983.1,465.5 L983.4,464.4 L983.7,463.2 L984.0,462.0 L984.3,460.8 L984.5,459.7 L984.8,458.5 L985.1,457.4 L985.4,456.2 L985.7,455.0 L985.9,453.9 L986.2,452.7 L986.5,451.5 L986.8,450.4 L987.1,449.2 L987.3,448.1 L987.6,446.9 L987.9,445.7 L988.2,444.6 L988.5,443.4 L988.8,442.3 L989.1,441.1 L989.4,440.0 L989.7,438.8 L990.1,437.6 L990.4,436.5 L990.7,435.3 L991.0,434.2 L991.3,433.1 L991.7,431.9 L992.0,430.8 L992.4,429.6 L992.7,428.5 L993.0,427.3 L993.4,426.2 L993.8,425.0 L994.1,423.9 L994.5,422.8 L994.9,421.6 L995.2,420.5 L995.6,419.4 L996.0,418.2 L996.4,417.1 L996.8,416.0 L997.2,414.9 L997.6,413.7 L998.0,412.6 L998.4,411.5 L998.8,410.4 L999.3,409.3 L999.7,408.1 L1000.1,407.0 L1000.6,405.9 L1001.0,404.8 L1001.5,403.7 L1001.9,402.6 L1002.4,401.5 L1002.9,400.4 L1003.4,399.3 L1003.8,398.2 L1004.3,397.1 L1004.8,396.0 L1005.3,394.9 L1005.9,393.8 L1006.4,392.7 L1006.9,391.6 L1007.4,390.6 L1008.0,389.5 L1008.5,388.4 L1009.1,387.3 L1009.6,386.3 L1010.2,385.2 L1010.8,384.1 L1011.4,383.1 L1012.0,382.0 L1012.6,380.9 L1013.2,379.9 L1013.8,378.8 L1014.4,377.8 L1015.0,376.7 L1015.7,375.7 L1016.3,374.6 L1017.0,373.6 L1017.6,372.6 L1018.3,371.5 L1019.0,370.5 L1019.7,369.5 L1020.4,368.5 L1021.1,367.5 L1021.8,366.5 L1022.6,365.5 L1023.3,364.5 L1024.1,363.6 L1024.8,362.7 L1025.6,361.8 L1026.4,360.9 L1027.3,360.0 L1028.1,359.1 L1028.9,358.3 L1029.8,357.5 L1030.7,356.7 L1031.6,356.0 L1032.5,355.2 L1033.5,354.5 L1034.4,353.9 L1035.4,353.2 L1036.4,352.6 L1037.4,352.1 L1038.4,351.5 L1039.5,351.0 L1040.6,350.6 L1041.7,350.1 L1042.8,349.8 L1043.9,349.4 L1045.1,349.1 L1046.2,348.8 L1047.4,348.5 L1048.6,348.3 L1049.8,348.1 L1051.0,347.9 L1052.2,347.8 L1053.4,347.7 L1054.6,347.6 L1055.8,347.5 L1057.1,347.5 L1058.3,347.5 L1059.5,347.5 L1060.7,347.6 L1061.9,347.7 L1063.2,347.8 L1064.4,348.0 L1065.6,348.2 L1066.7,348.5 L1067.9,348.7 L1069.1,349.1 L1070.2,349.4 L1071.3,349.8 L1072.4,350.3 L1073.5,350.8 L1074.5,351.3 L1075.6,351.9 L1076.6,352.5 L1077.6,353.1 L1078.6,353.8 L1079.5,354.5 L1080.5,355.2 L1081.4,356.0 L1082.3,356.8 L1083.2,357.6 L1084.1,358.4 L1085.0,359.2 L1085.9,360.1 L1086.8,360.9 L1087.6,361.8 L1088.5,362.7 L1089.3,363.5 L1090.2,364.4 L1091.0,365.3 L1091.9,366.1 L1092.7,367.0 L1093.6,367.8 L1094.4,368.7 L1095.2,369.6 L1096.1,370.4 L1096.9,371.3 L1097.8,372.1 L1098.6,373.0 L1099.5,373.8 L1100.3,374.6 L1101.1,375.5 L1102.0,376.3 L1102.8,377.1 L1103.7,377.9 L1104.5,378.8 L1105.4,379.6 L1106.3,380.4 L1107.1,381.2 L1108.0,382.0 L1108.9,382.8 L1109.8,383.5 L1110.7,384.3 L1111.6,385.1 L1112.5,385.8 L1113.4,386.6 L1114.3,387.3 L1115.2,388.1 L1116.2,388.8 L1117.1,389.5 L1118.1,390.2 L1119.0,391.0 L1120.0,391.7 L1121.0,392.3 L1122.0,393.0 L1123.0,393.7 L1124.0,394.4 L1125.1,395.0 L1126.1,395.7 L1127.2,396.3 L1128.2,396.9 L1129.3,397.5 L1130.4,398.2 L1131.5,398.8 L1132.5,399.4 L1133.6,400.0 L1134.7,400.6 L1135.8,401.2 L1136.9,401.8 L1138.0,402.4 L1139.0,403.1 L1140.1,403.7 L1141.1,404.3 L1142.2,405.0 L1143.2,405.6 L1144.2,406.3 L1145.2,407.0 L1146.2,407.7 L1147.2,408.4 L1148.1,409.1 L1149.0,409.8 L1149.9,410.6 L1150.8,411.4 L1151.7,412.2 L1152.5,413.0 L1153.3,413.8 L1154.1,414.6 L1154.9,415.5 L1155.6,416.4 L1156.4,417.2 L1157.1,418.1 L1157.8,419.1 L1158.5,420.0 L1159.2,420.9 L1159.8,421.9 L1160.5,422.8 L1161.1,423.8 L1161.7,424.8 L1162.3,425.8 L1162.9,426.8 L1163.4,427.8 L1164.0,428.8 L1164.6,429.9 L1165.1,430.9 L1165.6,432.0 L1166.1,433.0 L1166.6,434.1 L1167.1,435.2 L1167.6,436.3 L1168.1,437.4 L1168.5,438.5 L1169.0,439.6 L1169.4,440.7 L1169.9,441.8 L1170.3,443.0 L1170.7,444.1 L1171.2,445.2 L1171.6,446.4 L1172.0,447.5 L1172.4,448.7 L1172.8,449.8 L1173.2,451.0 L1173.6,452.2 L1174.0,453.3 L1174.4,454.5 L1174.8,455.7 L1175.2,456.8 L1175.6,458.0 L1176.0,459.2 L1176.4,460.3 L1176.8,461.5 L1177.2,462.7 L1177.6,463.8 L1178.0,465.0 L1178.4,466.2 L1178.8,467.3 L1179.2,468.5 L1179.6,469.6 L1180.0,470.8 L1180.4,472.0 L1180.9,473.1 L1181.3,474.3 L1181.7,475.4 L1182.2,476.5 L1182.6,477.7 L1183.1,478.8 L1183.5,479.9 L1184.0,481.1 L1184.4,482.2 L1184.9,483.3 L1185.4,484.4 L1185.9,485.5 L1186.3,486.7 L1186.8,487.8 L1187.3,488.9 L1187.8,490.0 L1188.3,491.1 L1188.8,492.2 L1189.3,493.3 L1189.8,494.4 L1190.3,495.5 L1190.8,496.6 L1191.3,497.7 L1191.8,498.8 L1192.3,499.9 L1192.8,501.0 L1193.3,502.0 L1193.8,503.1 L1194.3,504.2 L1194.8,505.3 L1195.4,506.4 L1195.9,507.5 L1196.4,508.5 L1196.9,509.6 L1197.4,510.7 L1198.0,511.8 L1198.5,512.9 L1199.0,513.9 L1199.5,515.0 L1200.0,516.1 L1200.6,517.2 L1201.1,518.2 L1201.6,519.3 L1202.1,520.4 L1202.6,521.5 L1203.1,522.5 L1203.7,523.6 L1204.2,524.7 L1204.7,525.8 L1205.2,526.8 L1205.7,527.9 L1206.2,529.0 L1206.7,530.1 L1207.2,531.1 L1207.7,532.2 L1208.2,533.3 L1208.7,534.4 L1209.2,535.5 L1209.7,536.5 L1210.2,537.6 L1210.7,538.7 L1211.1,539.8 L1211.6,540.9 L1212.1,542.0 L1212.6,543.1 L1213.0,544.2 L1213.5,545.3 L1214.0,546.3 L1214.4,547.4 L1214.9,548.5 L1215.3,549.6 L1215.8,550.7 L1216.2,551.8 L1216.7,552.9 L1217.1,554.0 L1217.6,555.1 L1218.0,556.2 L1218.5,557.3 L1218.9,558.4 L1219.4,559.5 L1219.8,560.7 L1220.3,561.8 L1220.7,562.9 L1221.2,564.0 L1221.6,565.1 L1222.1,566.2 L1222.5,567.3 L1223.0,568.4 L1223.4,569.5 L1223.9,570.6 L1224.3,571.8 L1224.8,572.9 L1225.2,574.0 L1225.7,575.1 L1226.2,576.2 L1226.6,577.3 L1227.1,578.4 L1227.6,579.6 L1228.0,580.7 L1228.5,581.8 L1229.0,582.9 L1229.5,584.0 L1229.9,585.1 L1230.4,586.3 L1230.9,587.4 L1231.4,588.5 L1231.9,589.6 L1232.4,590.7 L1232.9,591.8 L1233.4,593.0 L1234.0,594.1 L1234.5,595.2 L1235.0,596.3 L1235.6,597.4 L1236.1,598.5 L1236.6,599.7 L1237.2,600.8 L1237.7,601.9 L1238.3,603.0 L1238.9,604.1 L1239.5,605.2 L1240.0,606.3 L1240.6,607.4 L1241.3,608.5 L1241.9,609.6 L1242.5,610.6 L1243.2,611.7 L1243.9,612.7 L1244.6,613.7 L1245.3,614.6 L1246.1,615.5 L1246.9,616.4 L1247.7,617.3 L1248.5,618.1 L1249.4,618.9 L1250.3,619.6 L1251.2,620.3 L1252.2,620.9 L1253.2,621.5 L1254.2,622.1 L1255.3,622.5 L1256.4,622.9 L1257.5,623.2 L1258.6,623.5 L1259.7,623.6 L1260.8,623.7 L1261.8,623.6 L1262.9,623.4 L1263.9,623.1 L1264.9,622.8 L1265.9,622.3 L1266.9,621.8 L1267.9,621.2 L1268.8,620.5 L1269.8,619.8 L1270.7,619.0 L1271.6,618.2 L1272.5,617.4 L1273.3,616.5 L1274.2,615.6 L1275.0,614.6 L1275.9,613.7 L1276.7,612.7 L1277.5,611.8 L1278.3,610.8 L1279.1,609.9 L1279.8,608.9 L1280.6,607.9 L1281.3,607.0 L1282.1,606.0 L1282.8,605.0 L1283.5,604.1 L1284.2,603.1 L1284.9,602.1 L1285.6,601.1 L1286.3,600.2 L1286.9,599.2 L1287.6,598.2 L1288.3,597.2 L1288.9,596.2 L1289.6,595.2 L1290.2,594.2 L1290.8,593.2 L1291.5,592.2 L1292.1,591.2 L1292.7,590.2 L1293.3,589.2 L1293.9,588.2 L1294.5,587.2 L1295.1,586.2 L1295.7,585.2 L1296.3,584.1 L1296.9,583.1 L1297.5,582.1 L1298.1,581.1 L1298.7,580.0 L1299.3,579.0 L1299.9,578.0 L1300.5,577.0 L1301.1,575.9 L1301.7,574.9 L1302.3,573.9 L1302.9,572.8 L1303.5,571.8 L1304.1,570.7 L1304.7,569.7 L1305.3,568.7 L1305.9,567.6 L1306.5,566.6 L1307.1,565.5 L1307.8,564.5 L1308.4,563.4 L1309.0,562.4 L1309.6,561.3 L1310.2,560.3 L1310.8,559.3 L1311.5,558.2 L1312.1,557.2 L1312.7,556.1 L1313.4,555.1 L1314.0,554.1 L1314.6,553.0 L1315.3,552.0 L1315.9,551.0 L1316.6,549.9 L1317.2,548.9 L1317.9,547.9 L1318.6,546.8 L1319.2,545.8 L1319.9,544.8 L1320.6,543.8 L1321.2,542.8 L1321.9,541.8 L1322.6,540.8 L1323.3,539.8 L1324.0,538.8 L1324.7,537.8 L1325.4,536.8 L1326.1,535.8 L1326.8,534.8 L1327.5,533.8 L1328.3,532.9 L1329.0,531.9 L1329.7,530.9 L1330.5,530.0 L1331.2,529.0 L1331.9,528.1 L1332.7,527.2 L1333.5,526.2 L1334.2,525.3 L1335.0,524.4 L1335.8,523.5 L1336.6,522.5 L1337.3,521.6 L1338.1,520.7 L1338.9,519.9 L1339.8,519.0 L1340.6,518.1 L1341.4,517.2 L1342.2,516.4 L1343.1,515.5 L1343.9,514.7 L1344.7,513.9 L1345.6,513.0 L1346.5,512.2 L1347.3,511.4 L1348.2,510.6 L1349.1,509.8 L1350.0,509.0 L1350.9,508.3 L1351.8,507.5 L1352.7,506.7 L1353.6,506.0 L1354.6,505.3 L1355.5,504.5 L1356.5,503.8 L1357.4,503.1 L1358.4,502.4 L1359.4,501.7 L1360.3,501.1 L1361.3,500.4 L1362.3,499.8 L1363.3,499.1 L1364.3,498.5 L1365.3,497.9 L1366.4,497.3 L1367.4,496.7 L1368.4,496.1 L1369.5,495.5 L1370.5,494.9 L1371.6,494.4 L1372.7,493.8 L1373.7,493.3 L1374.8,492.8 L1375.9,492.3 L1377.0,491.8 L1378.1,491.3 L1379.2,490.8 L1380.3,490.3 L1381.4,489.9 L1382.5,489.5 L1383.6,489.0 L1384.8,488.6 L1385.9,488.2 L1387.1,487.8 L1388.2,487.4 L1389.4,487.1 L1390.5,486.7 L1391.7,486.4 L1392.9,486.0 L1394.0,485.7 L1395.2,485.4 L1396.4,485.1 L1397.5,484.7 L1398.7,484.4 L1399.9,484.1 L1401.1,483.8 L1402.2,483.5 L1403.4,483.1 L1404.6,482.8 L1405.7,482.5 L1406.9,482.1 L1408.1,481.8 L1409.2,481.4 L1410.4,481.0 L1411.5,480.7 L1412.6,480.3 L1413.8,479.9 L1414.9,479.5 L1416.0,479.0 L1417.1,478.6 L1418.3,478.1 L1419.4,477.7 L1420.5,477.2 L1421.6,476.7 L1422.7,476.3 L1423.7,475.8 L1424.8,475.2 L1425.9,474.7 L1427.0,474.2 L1428.0,473.7 L1429.1,473.1 L1430.2,472.6 L1431.2,472.0 L1432.2,471.4 L1433.3,470.8 L1434.3,470.2 L1435.4,469.6 L1436.4,469.0 L1437.4,468.4 L1438.4,467.8 L1439.4,467.2 L1440.4,466.5 L1441.5,465.9 L1442.4,465.2 L1443.4,464.5 L1444.4,463.9 L1445.4,463.2 L1446.4,462.5 L1447.4,461.8 L1448.3,461.1 L1449.3,460.4 L1450.3,459.7 L1451.2,458.9 L1452.2,458.2 L1453.1,457.5 L1454.1,456.7 L1455.0,456.0 L1456.0,455.2 L1456.9,454.5 L1457.8,453.7 L1458.8,452.9 L1459.7,452.1 L1460.6,451.4 L1461.5,450.6 L1462.4,449.8 L1463.3,449.0 L1464.2,448.2 L1465.1,447.4 L1466.0,446.5 L1466.9,445.7 L1467.8,444.9 L1468.7,444.1 L1469.5,443.2 L1470.4,442.4 L1471.3,441.5 L1472.1,440.7 L1473.0,439.8 L1473.9,439.0 L1474.7,438.1 L1475.6,437.3 L1476.4,436.4 L1477.3,435.5 L1478.1,434.7 L1478.9,433.8 L1479.8,432.9 L1480.6,432.0 L1481.4,431.2 L1482.2,430.3 L1483.1,429.4 L1483.9,428.5 L1484.7,427.6 L1485.5,426.7 L1486.3,425.8 L1487.1,424.9 L1487.9,424.0 L1488.7,423.0 L1489.4,422.1 L1490.2,421.2 L1491.0,420.3 L1491.7,419.3 L1492.5,418.4 L1493.2,417.5 L1494.0,416.5 L1494.7,415.6 L1495.4,414.6 L1496.2,413.7 L1496.9,412.7 L1497.6,411.7 L1498.3,410.8 L1498.9,409.8 L1499.6,408.8 L1500.3,407.8 L1501.0,406.8 L1501.6,405.8 L1502.3,404.8 L1502.9,403.8 L1503.5,402.8 L1504.1,401.8 L1504.7,400.8 L1505.3,399.7 L1505.9,398.7 L1506.5,397.7 L1507.1,396.6 L1507.6,395.6 L1508.2,394.5 L1508.7,393.4 L1509.2,392.4 L1509.7,391.3 L1510.2,390.2 L1510.7,389.1 L1511.2,388.0 L1511.7,386.9 L1512.2,385.8 L1512.7,384.7 L1513.1,383.6 L1513.6,382.5 L1514.0,381.4 L1514.4,380.3 L1514.9,379.2 L1515.3,378.0 L1515.7,376.9 L1516.1,375.8 L1516.6,374.7 L1517.0,373.5 L1517.4,372.4 L1517.8,371.2 L1518.1,370.1 L1518.5,369.0 L1518.9,367.8 L1519.3,366.7 L1519.7,365.5 L1520.1,364.4 L1520.4,363.2 L1520.8,362.1 L1521.2,360.9 L1521.5,359.8 L1521.9,358.6 L1522.3,357.5 L1522.6,356.3 L1523.0,355.1 L1523.3,354.0 L1523.7,352.8 L1524.1,351.7 L1524.4,350.5 L1524.8,349.4 L1525.1,348.2 L1525.5,347.1 L1525.8,345.9 L1526.2,344.8 L1526.5,343.6 L1526.9,342.5 L1527.3,341.3 L1527.6,340.2 L1528.0,339.0 L1528.3,337.9 L1528.7,336.7 L1529.0,335.6 L1529.4,334.4 L1529.7,333.3 L1530.0,332.1 L1530.4,331.0 L1530.7,329.8 L1531.1,328.7 L1531.4,327.5 L1531.8,326.4 L1532.1,325.2 L1532.4,324.1 L1532.8,322.9 L1533.1,321.8 L1533.4,320.6 L1533.8,319.5 L1534.1,318.3 L1534.4,317.2 L1534.8,316.0 L1535.1,314.9 L1535.4,313.7 L1535.7,312.6 L1536.1,311.4 L1536.4,310.3 L1536.7,309.1 L1537.0,308.0 L1537.4,306.8 L1537.7,305.7 L1538.0,304.5 L1538.3,303.3 L1538.6,302.2 L1538.9,301.0 L1539.2,299.9 L1539.5,298.7 L1539.9,297.5 L1540.2,296.4 L1540.5,295.2 L1540.8,294.1 L1541.1,292.9 L1541.4,291.7 L1541.7,290.6 L1541.9,289.4 L1542.2,288.2 L1542.5,287.1 L1542.8,285.9 L1543.1,284.7 L1543.4,283.6 L1543.7,282.4 L1544.0,281.2 L1544.2,280.1 L1544.5,278.9 L1544.8,277.7 L1545.1,276.5 L1545.3,275.4 L1545.6,274.2 L1545.9,273.0 L1546.1,271.8 L1546.4,270.7 L1546.7,269.5 L1546.9,268.3 L1547.2,267.1 L1547.5,266.0 L1547.7,264.8 L1548.0,263.6 L1548.3,262.4 L1548.5,261.2 L1548.8,260.1 L1549.1,258.9 L1549.4,257.7 L1549.6,256.5 L1549.9,255.4 L1550.2,254.2 L1550.5,253.0 L1550.8,251.9 L1551.1,250.7 L1551.4,249.5 L1551.7,248.4 L1552.0,247.2 L1552.3,246.0 L1552.6,244.9 L1552.9,243.7 L1553.3,242.6 L1553.6,241.4 L1554.0,240.3 L1554.3,239.1 L1554.7,238.0 L1555.0,236.8 L1555.4,235.7 L1555.8,234.6 L1556.1,233.4 L1556.5,232.3 L1556.9,231.2 L1557.4,230.1 L1557.8,228.9 L1558.2,227.8 L1558.6,226.7 L1559.1,225.6 L1559.5,224.5 L1560.0,223.4 L1560.5,222.3 L1561.0,221.2 L1561.5,220.2 L1562.0,219.1 L1562.5,218.0" fill="none" stroke="#FF0000" stroke-width="8.8" stroke-linejoin="round" stroke-linecap="butt"/>
<path d="M248.5,157.5 L249.7,157.5 L250.8,157.5 L252.0,157.5 L253.2,157.5 L254.3,157.6 L255.5,157.7 L256.7,157.8 L257.8,157.8 L259.0,158.0 L260.2,158.1 L261.4,158.2 L262.5,158.4 L263.7,158.5 L264.9,158.7 L266.1,158.9 L267.3,159.1 L268.5,159.3 L269.7,159.5 L270.8,159.8 L272.0,160.0 L273.2,160.2 L274.4,160.5 L275.6,160.8 L276.8,161.0 L278.0,161.3 L279.2,161.6 L280.4,161.9 L281.6,162.2 L282.8,162.5 L284.0,162.8 L285.2,163.1 L286.4,163.4 L287.6,163.7 L288.8,164.0 L290.0,164.3 L291.1,164.6 L292.3,164.9 L293.5,165.2 L294.7,165.6 L295.9,165.9 L297.1,166.2 L298.3,166.5 L299.5,166.8 L300.7,167.1 L301.9,167.4 L303.1,167.7 L304.3,168.0 L305.4,168.3 L306.6,168.6 L307.8,168.9 L309.0,169.2 L310.2,169.4 L311.4,169.7 L312.5,169.9 L313.7,170.2 L314.9,170.4 L316.1,170.7 L317.2,170.9 L318.4,171.1 L319.6,171.3 L320.8,171.5 L321.9,171.7 L323.1,171.9 L324.3,172.1 L325.4,172.2 L326.6,172.4 L327.7,172.5 L328.9,172.7 L330.1,172.8 L331.2,173.0 L332.4,173.1 L333.5,173.2 L334.7,173.3 L335.9,173.4 L337.0,173.6 L338.2,173.7 L339.3,173.7 L340.5,173.8 L341.7,173.9 L342.8,174.0 L344.0,174.1 L345.1,174.2 L346.3,174.2 L347.5,174.3 L348.6,174.4 L349.8,174.4 L351.0,174.5 L352.1,174.5 L353.3,174.6 L354.5,174.6 L355.6,174.7 L356.8,174.7 L358.0,174.7 L359.2,174.8 L360.3,174.8 L361.5,174.9 L362.7,174.9 L363.9,174.9 L365.1,175.0 L366.3,175.0 L367.4,175.0 L368.6,175.0 L369.8,175.1 L371.0,175.1 L372.2,175.1 L373.4,175.2 L374.6,175.2 L375.9,175.2 L377.1,175.2 L378.3,175.3 L379.5,175.3 L380.7,175.3 L381.9,175.4 L383.1,175.4 L384.4,175.4 L385.6,175.5 L386.8,175.5 L388.0,175.5 L389.3,175.6 L390.5,175.6 L391.7,175.7 L392.9,175.7 L394.2,175.8 L395.4,175.8 L396.6,175.9 L397.9,175.9 L399.1,176.0 L400.3,176.0 L401.6,176.1 L402.8,176.2 L404.1,176.2 L405.3,176.3 L406.5,176.4 L407.8,176.4 L409.0,176.5 L410.2,176.6 L411.5,176.7 L412.7,176.8 L413.9,176.9 L415.2,177.0 L416.4,177.1 L417.6,177.2 L418.9,177.3 L420.1,177.4 L421.3,177.5 L422.6,177.6 L423.8,177.8 L425.0,177.9 L426.2,178.0 L427.5,178.2 L428.7,178.3 L429.9,178.5 L431.1,178.6 L432.3,178.8 L433.5,179.0 L434.8,179.1 L436.0,179.3 L437.2,179.5 L438.4,179.7 L439.6,179.9 L440.8,180.1 L442.0,180.3 L443.2,180.5 L444.4,180.7 L445.6,180.9 L446.7,181.2 L447.9,181.4 L449.1,181.7 L450.3,181.9 L451.5,182.2 L452.6,182.5 L453.8,182.7 L455.0,183.0 L456.1,183.3 L457.3,183.6 L458.4,183.9 L459.6,184.2 L460.7,184.5 L461.9,184.9 L463.0,185.2 L464.1,185.6 L465.3,185.9 L466.4,186.3 L467.5,186.7 L468.6,187.0 L469.7,187.4 L470.8,187.8 L471.9,188.2 L473.0,188.6 L474.1,189.1 L475.2,189.5 L476.3,190.0 L477.4,190.4 L478.4,190.9 L479.5,191.3 L480.5,191.8 L481.6,192.3 L482.6,192.8 L483.7,193.3 L484.7,193.9 L485.7,194.4 L486.8,194.9 L487.8,195.5 L488.8,196.1 L489.8,196.6 L490.8,197.2 L491.8,197.8 L492.7,198.4 L493.7,199.1 L494.7,199.7 L495.6,200.3 L496.6,201.0 L497.5,201.7 L498.5,202.4 L499.4,203.0 L500.3,203.7 L501.3,204.5 L502.2,205.2 L503.1,205.9 L504.0,206.7 L504.8,207.5 L505.7,208.2 L506.6,209.0 L507.5,209.8 L508.3,210.6 L509.2,211.5 L510.0,212.3 L510.8,213.2 L511.6,214.0 L512.5,214.9 L513.3,215.8 L514.0,216.7 L514.8,217.6 L515.6,218.5 L516.4,219.4 L517.1,220.4 L517.9,221.3 L518.6,222.3 L519.4,223.2 L520.1,224.2 L520.8,225.2 L521.5,226.2 L522.2,227.2 L522.9,228.2 L523.5,229.2 L524.2,230.2 L524.9,231.3 L525.5,232.3 L526.1,233.4 L526.8,234.4 L527.4,235.5 L528.0,236.6 L528.6,237.6 L529.2,238.7 L529.7,239.8 L530.3,240.9 L530.9,242.0 L531.4,243.1 L531.9,244.3 L532.4,245.4 L533.0,246.5 L533.5,247.6 L533.9,248.8 L534.4,249.9 L534.9,251.1 L535.3,252.2 L535.8,253.4 L536.2,254.5 L536.6,255.7 L537.0,256.9 L537.4,258.1 L537.8,259.2 L538.2,260.4 L538.6,261.6 L538.9,262.8 L539.3,264.0 L539.6,265.2 L539.9,266.4 L540.2,267.6 L540.5,268.8 L540.8,270.0 L541.0,271.2 L541.3,272.4 L541.5,273.6 L541.8,274.8 L542.0,276.0 L542.2,277.2 L542.4,278.4 L542.5,279.6 L542.7,280.8 L542.9,282.0 L543.0,283.3 L543.1,284.5 L543.2,285.7 L543.4,286.9 L543.4,288.1 L543.5,289.3 L543.6,290.5 L543.7,291.7 L543.8,292.9 L543.8,294.1 L543.9,295.4 L543.9,296.6 L544.0,297.8 L544.0,299.0 L544.1,300.2 L544.1,301.4 L544.2,302.6 L544.2,303.8 L544.2,305.0 L544.3,306.2 L544.3,307.4 L544.4,308.5 L544.5,309.7 L544.5,310.9 L544.6,312.1 L544.7,313.3 L544.8,314.5 L544.9,315.7 L545.0,316.8 L545.1,318.0 L545.2,319.2 L545.4,320.4 L545.5,321.5 L545.7,322.7 L545.9,323.9 L546.1,325.0 L546.3,326.2 L546.5,327.3 L546.8,328.5 L547.1,329.6 L547.3,330.8 L547.7,331.9 L548.0,333.1 L548.3,334.2 L548.7,335.3 L549.1,336.5 L549.5,337.6 L550.0,338.7 L550.5,339.8 L551.0,340.9 L551.5,342.0 L552.1,343.0 L552.7,344.0 L553.3,344.9 L554.0,345.8 L554.7,346.7 L555.5,347.5 L556.3,348.2 L557.1,348.9 L558.0,349.5 L558.9,350.0 L559.9,350.5 L561.0,350.8 L562.1,351.1 L563.2,351.4 L564.3,351.5 L565.5,351.7 L566.7,351.7 L568.0,351.8 L569.2,351.9 L570.4,352.0 L571.7,352.0 L572.9,352.1 L574.2,352.2 L575.5,352.3 L576.7,352.4 L578.0,352.5 L579.2,352.6 L580.5,352.8 L581.8,352.9 L583.0,353.1 L584.2,353.3 L585.5,353.4 L586.7,353.6 L587.9,353.9 L589.1,354.1 L590.3,354.4 L591.5,354.7 L592.7,355.0 L593.8,355.3 L595.0,355.6 L596.1,356.0 L597.2,356.4 L598.3,356.9 L599.4,357.3 L600.4,357.8 L601.5,358.3 L602.5,358.8 L603.5,359.4 L604.4,360.0 L605.4,360.6 L606.3,361.2 L607.2,361.8 L608.1,362.5 L609.0,363.2 L609.9,363.9 L610.7,364.7 L611.6,365.4 L612.4,366.2 L613.2,367.0 L614.0,367.8 L614.8,368.7 L615.5,369.5 L616.3,370.4 L617.0,371.3 L617.7,372.2 L618.4,373.1 L619.1,374.1 L619.8,375.0 L620.4,376.0 L621.1,377.0 L621.7,378.0 L622.4,379.0 L623.0,380.0 L623.6,381.1 L624.2,382.1 L624.7,383.2 L625.3,384.3 L625.9,385.3 L626.4,386.4 L626.9,387.6 L627.5,388.7 L628.0,389.8 L628.5,390.9 L629.0,392.1 L629.5,393.2 L630.0,394.4 L630.4,395.6 L630.9,396.7 L631.3,397.9 L631.8,399.1 L632.2,400.3 L632.7,401.5 L633.1,402.7 L633.5,403.9 L633.9,405.1 L634.3,406.3 L634.7,407.5 L635.1,408.7 L635.5,409.9 L635.9,411.2 L636.3,412.4 L636.7,413.6 L637.1,414.8 L637.4,416.0 L637.8,417.2 L638.2,418.5 L638.5,419.7 L638.9,420.9 L639.2,422.1 L639.6,423.3 L639.9,424.5 L640.3,425.7 L640.6,426.8 L641.0,428.0 L641.3,429.2 L641.7,430.4 L642.0,431.5 L642.4,432.7 L642.7,433.9 L643.0,435.0 L643.4,436.2 L643.7,437.3 L644.0,438.5 L644.4,439.6 L644.7,440.7 L645.0,441.9 L645.4,443.0 L645.7,444.1 L646.0,445.3 L646.3,446.4 L646.7,447.5 L647.0,448.6 L647.3,449.7 L647.6,450.9 L647.9,452.0 L648.2,453.1 L648.6,454.2 L648.9,455.3 L649.2,456.4 L649.5,457.6 L649.8,458.7 L650.1,459.8 L650.4,460.9 L650.7,462.0 L651.0,463.1 L651.3,464.3 L651.6,465.4 L651.9,466.5 L652.2,467.6 L652.5,468.7 L652.8,469.8 L653.1,471.0 L653.4,472.1 L653.7,473.2 L654.0,474.4 L654.3,475.5 L654.6,476.6 L654.8,477.8 L655.1,478.9 L655.4,480.1 L655.7,481.2 L656.0,482.4 L656.2,483.5 L656.5,484.7 L656.8,485.8 L657.1,487.0 L657.4,488.2 L657.6,489.3 L657.9,490.5 L658.2,491.7 L658.5,492.8 L658.7,494.0 L659.0,495.2 L659.3,496.4 L659.5,497.6 L659.8,498.7 L660.1,499.9 L660.4,501.1 L660.6,502.3 L660.9,503.5 L661.2,504.7 L661.4,505.9 L661.7,507.1 L662.0,508.2 L662.3,509.4 L662.5,510.6 L662.8,511.8 L663.1,513.0 L663.4,514.2 L663.7,515.4 L663.9,516.6 L664.2,517.8 L664.5,519.0 L664.8,520.2 L665.1,521.4 L665.3,522.6 L665.6,523.8 L665.9,524.9 L666.2,526.1 L666.5,527.3 L666.8,528.5 L667.1,529.7 L667.4,530.9 L667.7,532.1 L668.0,533.2 L668.3,534.4 L668.6,535.6 L668.9,536.8 L669.2,538.0 L669.5,539.1 L669.9,540.3 L670.2,541.5 L670.5,542.6 L670.8,543.8 L671.1,544.9 L671.5,546.1 L671.8,547.3 L672.1,548.4 L672.5,549.6 L672.8,550.7 L673.2,551.8 L673.5,553.0 L673.9,554.1 L674.2,555.2 L674.6,556.4 L674.9,557.5 L675.3,558.6 L675.7,559.7 L676.1,560.8 L676.4,561.9 L676.8,563.0 L677.2,564.1 L677.6,565.2 L678.0,566.3 L678.4,567.4 L678.8,568.5 L679.3,569.6 L679.7,570.6 L680.2,571.7 L680.6,572.8 L681.1,573.9 L681.6,574.9 L682.1,576.0 L682.6,577.1 L683.1,578.1 L683.7,579.2 L684.2,580.2 L684.8,581.3 L685.4,582.4 L686.0,583.4 L686.7,584.5 L687.3,585.5 L688.0,586.6 L688.7,587.7 L689.5,588.7 L690.2,589.8 L691.0,590.8 L691.8,591.9 L692.6,592.9 L693.4,593.9 L694.3,594.9 L695.1,595.9 L696.0,596.9 L696.9,597.8 L697.8,598.8 L698.7,599.6 L699.7,600.5 L700.6,601.4 L701.6,602.2 L702.6,602.9 L703.6,603.7 L704.6,604.3 L705.6,605.0 L706.6,605.6 L707.7,606.2 L708.7,606.7 L709.8,607.1 L710.8,607.6 L711.9,607.9 L713.0,608.2 L714.1,608.5 L715.1,608.7 L716.2,608.9 L717.3,609.1 L718.4,609.2 L719.5,609.2 L720.6,609.2 L721.8,609.2 L722.9,609.2 L724.0,609.1 L725.1,608.9 L726.2,608.8 L727.3,608.6 L728.4,608.3 L729.5,608.0 L730.6,607.7 L731.7,607.4 L732.9,607.0 L734.0,606.6 L735.0,606.2 L736.1,605.7 L737.2,605.2 L738.3,604.7 L739.4,604.2 L740.5,603.6 L741.5,603.0 L742.6,602.4 L743.6,601.8 L744.7,601.1 L745.7,600.4 L746.7,599.7 L747.7,599.0 L748.7,598.2 L749.7,597.5 L750.7,596.7 L751.6,595.9 L752.6,595.1 L753.5,594.3 L754.5,593.4 L755.4,592.6 L756.3,591.7 L757.1,590.9 L758.0,590.0 L758.9,589.1 L759.7,588.2 L760.5,587.3 L761.3,586.3 L762.1,585.4 L762.9,584.5 L763.6,583.5 L764.4,582.6 L765.1,581.6 L765.8,580.6 L766.5,579.6 L767.2,578.6 L767.9,577.7 L768.6,576.6 L769.2,575.6 L769.8,574.6 L770.5,573.6 L771.1,572.5 L771.7,571.5 L772.3,570.5 L772.9,569.4 L773.4,568.3 L774.0,567.3 L774.6,566.2 L775.1,565.1 L775.6,564.0 L776.1,563.0 L776.7,561.9 L777.2,560.8 L777.6,559.7 L778.1,558.6 L778.6,557.5 L779.1,556.3 L779.5,555.2 L780.0,554.1 L780.4,553.0 L780.9,551.9 L781.3,550.7 L781.7,549.6 L782.1,548.5 L782.5,547.3 L782.9,546.2 L783.3,545.0 L783.7,543.9 L784.1,542.8 L784.5,541.6 L784.9,540.5 L785.2,539.3 L785.6,538.2 L786.0,537.0 L786.3,535.9 L786.7,534.7 L787.0,533.6 L787.4,532.4 L787.7,531.3 L788.0,530.1 L788.4,529.0 L788.7,527.8 L789.0,526.6 L789.4,525.5 L789.7,524.3 L790.0,523.2 L790.3,522.0 L790.6,520.8 L790.9,519.7 L791.2,518.5 L791.5,517.4 L791.8,516.2 L792.2,515.0 L792.5,513.9 L792.8,512.7 L793.1,511.6 L793.4,510.4 L793.7,509.2 L794.0,508.1 L794.2,506.9 L794.5,505.8 L794.8,504.6 L795.1,503.4 L795.4,502.3 L795.7,501.1 L796.0,500.0 L796.3,498.8 L796.6,497.6 L796.9,496.5 L797.2,495.3 L797.5,494.2 L797.9,493.0 L798.2,491.9 L798.5,490.7 L798.8,489.6 L799.1,488.4 L799.4,487.3 L799.7,486.1 L800.1,484.9 L800.4,483.8 L800.7,482.6 L801.0,481.5 L801.4,480.4 L801.7,479.2 L802.1,478.1 L802.4,476.9 L802.7,475.8 L803.1,474.6 L803.5,473.5 L803.8,472.4 L804.2,471.2 L804.6,470.1 L804.9,468.9 L805.3,467.8 L805.7,466.7 L806.1,465.6 L806.5,464.4 L806.9,463.3 L807.3,462.2 L807.7,461.1 L808.2,459.9 L808.6,458.8 L809.0,457.7 L809.5,456.6 L809.9,455.5 L810.4,454.3 L810.8,453.2 L811.3,452.1 L811.8,451.0 L812.3,449.9 L812.8,448.8 L813.3,447.7 L813.8,446.6 L814.3,445.5 L814.9,444.4 L815.4,443.3 L815.9,442.3 L816.5,441.2 L817.1,440.1 L817.6,439.0 L818.2,437.9 L818.8,436.9 L819.4,435.8 L820.0,434.7 L820.7,433.7 L821.3,432.6 L822.0,431.5 L822.6,430.5 L823.3,429.4 L824.0,428.4 L824.6,427.4 L825.3,426.3 L826.1,425.3 L826.8,424.3 L827.5,423.3 L828.2,422.3 L829.0,421.3 L829.8,420.4 L830.5,419.4 L831.3,418.5 L832.1,417.6 L832.9,416.7 L833.7,415.8 L834.6,414.9 L835.4,414.0 L836.3,413.2 L837.1,412.4 L838.0,411.6 L838.9,410.8 L839.8,410.0 L840.7,409.3 L841.6,408.6 L842.5,407.9 L843.4,407.2 L844.4,406.6 L845.4,406.0 L846.3,405.4 L847.3,404.8 L848.3,404.3 L849.3,403.8 L850.3,403.3 L851.4,402.9 L852.4,402.5 L853.5,402.1 L854.5,401.8 L855.6,401.5 L856.7,401.2 L857.8,400.9 L858.9,400.7 L860.0,400.6 L861.1,400.4 L862.3,400.3 L863.4,400.3 L864.6,400.2 L865.8,400.2 L867.0,400.3 L868.2,400.3 L869.3,400.4 L870.6,400.6 L871.8,400.7 L873.0,400.9 L874.2,401.1 L875.4,401.3 L876.6,401.6 L877.8,401.8 L879.1,402.1 L880.3,402.4 L881.5,402.8 L882.7,403.1 L884.0,403.5 L885.2,403.9 L886.4,404.3 L887.6,404.7 L888.8,405.1 L890.0,405.6 L891.3,406.0 L892.4,406.5 L893.6,407.0 L894.8,407.5 L896.0,408.0 L897.2,408.5 L898.4,409.0 L899.6,409.5 L900.7,410.0 L901.9,410.5 L903.1,411.0 L904.3,411.5 L905.4,412.1 L906.6,412.6 L907.7,413.1 L908.9,413.6 L910.0,414.1 L911.2,414.6 L912.3,415.1 L913.5,415.6 L914.6,416.1 L915.8,416.6 L916.9,417.0 L918.0,417.5 L919.2,417.9 L920.3,418.4 L921.4,418.8 L922.6,419.2 L923.7,419.6 L924.8,420.0 L925.9,420.3 L927.1,420.7 L928.2,421.0 L929.3,421.3 L930.4,421.6 L931.5,421.8 L932.7,422.1 L933.8,422.3 L934.9,422.5 L936.0,422.6 L937.1,422.8 L938.2,422.9 L939.3,423.0 L940.4,423.0 L941.6,423.0 L942.7,423.0 L943.8,423.0 L944.9,422.9 L946.0,422.8 L947.1,422.7 L948.2,422.6 L949.3,422.4 L950.4,422.2 L951.5,422.0 L952.6,421.8 L953.7,421.5 L954.8,421.3 L955.9,421.0 L957.0,420.6 L958.1,420.3 L959.2,419.9 L960.3,419.6 L961.4,419.2 L962.5,418.7 L963.6,418.3 L964.7,417.9 L965.8,417.4 L966.9,416.9 L968.0,416.4 L969.1,415.9 L970.2,415.4 L971.3,414.9 L972.4,414.3 L973.5,413.8 L974.6,413.2 L975.7,412.6 L976.8,412.0 L977.9,411.4 L979.0,410.8 L980.1,410.2 L981.2,409.6 L982.3,408.9 L983.4,408.3 L984.4,407.7 L985.5,407.0 L986.6,406.4 L987.7,405.7 L988.8,405.0 L989.9,404.4 L991.0,403.7 L992.1,403.1 L993.2,402.4 L994.2,401.7 L995.3,401.0 L996.4,400.4 L997.5,399.7 L998.6,399.0 L999.7,398.4 L1000.7,397.7 L1001.8,397.1 L1002.9,396.4 L1004.0,395.8 L1005.1,395.1 L1006.2,394.5 L1007.2,393.9 L1008.3,393.2 L1009.4,392.6 L1010.5,392.0 L1011.6,391.4 L1012.6,390.8 L1013.7,390.3 L1014.8,389.7 L1015.9,389.1 L1017.0,388.6 L1018.0,388.1 L1019.1,387.6 L1020.2,387.0 L1021.3,386.6 L1022.3,386.1 L1023.4,385.6 L1024.5,385.2 L1025.6,384.7 L1026.7,384.3 L1027.7,383.9 L1028.8,383.5 L1029.9,383.1 L1031.0,382.7 L1032.0,382.3 L1033.1,381.9 L1034.2,381.6 L1035.3,381.2 L1036.4,380.9 L1037.5,380.6 L1038.6,380.3 L1039.7,380.0 L1040.8,379.6 L1041.8,379.4 L1042.9,379.1 L1044.0,378.8 L1045.1,378.5 L1046.3,378.2 L1047.4,378.0 L1048.5,377.7 L1049.6,377.5 L1050.7,377.2 L1051.8,377.0 L1053.0,376.8 L1054.1,376.5 L1055.2,376.3 L1056.4,376.1 L1057.5,375.9 L1058.6,375.6 L1059.8,375.4 L1060.9,375.2 L1062.1,375.0 L1063.3,374.8 L1064.4,374.6 L1065.6,374.4 L1066.8,374.2 L1067.9,374.0 L1069.1,373.8 L1070.3,373.6 L1071.5,373.4 L1072.7,373.2 L1073.9,373.0 L1075.1,372.8 L1076.4,372.6 L1077.6,372.4 L1078.8,372.2 L1080.0,372.0 L1081.3,371.8 L1082.5,371.7 L1083.7,371.5 L1085.0,371.3 L1086.2,371.1 L1087.5,371.0 L1088.7,370.8 L1090.0,370.6 L1091.2,370.5 L1092.5,370.3 L1093.7,370.2 L1095.0,370.0 L1096.3,369.9 L1097.5,369.7 L1098.8,369.6 L1100.0,369.5 L1101.3,369.4 L1102.6,369.3 L1103.8,369.2 L1105.1,369.1 L1106.3,369.0 L1107.6,368.9 L1108.9,368.9 L1110.1,368.8 L1111.4,368.8 L1112.6,368.7 L1113.9,368.7 L1115.1,368.7 L1116.4,368.7 L1117.6,368.7 L1118.9,368.7 L1120.1,368.7 L1121.3,368.8 L1122.6,368.8 L1123.8,368.9 L1125.0,368.9 L1126.2,369.0 L1127.4,369.1 L1128.6,369.2 L1129.8,369.4 L1131.0,369.5 L1132.2,369.7 L1133.4,369.8 L1134.6,370.0 L1135.8,370.2 L1137.0,370.4 L1138.1,370.6 L1139.3,370.9 L1140.4,371.1 L1141.6,371.4 L1142.7,371.7 L1143.8,372.0 L1144.9,372.3 L1146.1,372.7 L1147.2,373.0 L1148.3,373.4 L1149.3,373.8 L1150.4,374.2 L1151.5,374.7 L1152.5,375.1 L1153.6,375.6 L1154.6,376.1 L1155.7,376.6 L1156.7,377.2 L1157.7,377.7 L1158.7,378.3 L1159.7,378.9 L1160.7,379.5 L1161.6,380.1 L1162.6,380.8 L1163.5,381.4 L1164.5,382.1 L1165.4,382.8 L1166.3,383.5 L1167.2,384.2 L1168.1,385.0 L1169.0,385.7 L1169.9,386.5 L1170.8,387.3 L1171.7,388.1 L1172.6,388.9 L1173.4,389.7 L1174.3,390.6 L1175.1,391.4 L1175.9,392.3 L1176.8,393.2 L1177.6,394.0 L1178.4,394.9 L1179.2,395.8 L1180.0,396.7 L1180.8,397.7 L1181.5,398.6 L1182.3,399.5 L1183.1,400.5 L1183.9,401.4 L1184.6,402.4 L1185.4,403.4 L1186.1,404.3 L1186.8,405.3 L1187.6,406.3 L1188.3,407.3 L1189.0,408.3 L1189.7,409.3 L1190.4,410.3 L1191.1,411.3 L1191.8,412.3 L1192.5,413.3 L1193.2,414.3 L1193.9,415.3 L1194.6,416.3 L1195.2,417.3 L1195.9,418.4 L1196.6,419.4 L1197.2,420.4 L1197.9,421.4 L1198.5,422.4 L1199.2,423.5 L1199.8,424.5 L1200.5,425.5 L1201.1,426.5 L1201.7,427.6 L1202.4,428.6 L1203.0,429.6 L1203.6,430.7 L1204.2,431.7 L1204.8,432.7 L1205.4,433.8 L1206.0,434.8 L1206.6,435.8 L1207.2,436.9 L1207.8,437.9 L1208.4,438.9 L1209.0,440.0 L1209.6,441.0 L1210.2,442.1 L1210.8,443.1 L1211.3,444.2 L1211.9,445.2 L1212.5,446.3 L1213.0,447.3 L1213.6,448.4 L1214.2,449.4 L1214.7,450.5 L1215.3,451.5 L1215.9,452.6 L1216.4,453.6 L1217.0,454.7 L1217.5,455.7 L1218.1,456.8 L1218.6,457.8 L1219.1,458.9 L1219.7,459.9 L1220.2,461.0 L1220.8,462.1 L1221.3,463.1 L1221.8,464.2 L1222.4,465.2 L1222.9,466.3 L1223.4,467.4 L1224.0,468.4 L1224.5,469.5 L1225.0,470.6 L1225.6,471.6 L1226.1,472.7 L1226.6,473.8 L1227.2,474.8 L1227.7,475.9 L1228.2,477.0 L1228.7,478.0 L1229.3,479.1 L1229.8,480.2 L1230.3,481.2 L1230.8,482.3 L1231.3,483.4 L1231.9,484.4 L1232.4,485.5 L1232.9,486.6 L1233.4,487.7 L1234.0,488.7 L1234.5,489.8 L1235.0,490.9 L1235.5,491.9 L1236.1,493.0 L1236.6,494.1 L1237.1,495.2 L1237.7,496.2 L1238.2,497.3 L1238.7,498.4 L1239.2,499.5 L1239.8,500.5 L1240.3,501.6 L1240.8,502.7 L1241.4,503.8 L1241.9,504.8 L1242.5,505.9 L1243.0,507.0 L1243.5,508.0 L1244.1,509.1 L1244.6,510.2 L1245.2,511.3 L1245.7,512.3 L1246.3,513.4 L1246.8,514.5 L1247.4,515.6 L1247.9,516.6 L1248.5,517.7 L1249.1,518.8 L1249.6,519.9 L1250.2,520.9 L1250.8,522.0 L1251.3,523.1 L1251.9,524.2 L1252.5,525.2 L1253.1,526.3 L1253.7,527.4 L1254.2,528.5 L1254.8,529.5 L1255.4,530.6 L1256.0,531.7 L1256.6,532.7 L1257.2,533.8 L1257.8,534.9 L1258.4,536.0 L1259.0,537.0 L1259.7,538.1 L1260.3,539.2 L1260.9,540.2 L1261.5,541.3 L1262.2,542.4 L1262.8,543.4 L1263.4,544.5 L1264.1,545.5 L1264.8,546.6 L1265.4,547.6 L1266.1,548.7 L1266.7,549.7 L1267.4,550.8 L1268.1,551.8 L1268.8,552.8 L1269.5,553.8 L1270.2,554.8 L1270.9,555.8 L1271.6,556.8 L1272.4,557.8 L1273.1,558.8 L1273.9,559.7 L1274.6,560.7 L1275.4,561.6 L1276.2,562.5 L1276.9,563.5 L1277.7,564.4 L1278.5,565.2 L1279.4,566.1 L1280.2,567.0 L1281.0,567.8 L1281.9,568.7 L1282.7,569.5 L1283.6,570.3 L1284.5,571.1 L1285.4,571.8 L1286.3,572.6 L1287.2,573.3 L1288.2,574.0 L1289.1,574.7 L1290.1,575.4 L1291.1,576.1 L1292.1,576.7 L1293.1,577.3 L1294.1,577.9 L1295.1,578.5 L1296.2,579.1 L1297.2,579.6 L1298.3,580.1 L1299.4,580.6 L1300.5,581.0 L1301.7,581.5 L1302.8,581.9 L1303.9,582.2 L1305.1,582.6 L1306.2,582.8 L1307.4,583.1 L1308.5,583.3 L1309.6,583.4 L1310.7,583.5 L1311.8,583.5 L1312.9,583.4 L1313.9,583.3 L1315.0,583.1 L1316.0,582.9 L1317.0,582.6 L1318.0,582.2 L1318.9,581.8 L1319.9,581.4 L1320.8,580.9 L1321.7,580.3 L1322.6,579.7 L1323.5,579.1 L1324.3,578.4 L1325.2,577.7 L1326.0,576.9 L1326.8,576.2 L1327.6,575.3 L1328.4,574.5 L1329.2,573.6 L1330.0,572.7 L1330.7,571.7 L1331.5,570.7 L1332.2,569.8 L1332.9,568.7 L1333.7,567.7 L1334.4,566.7 L1335.1,565.6 L1335.7,564.5 L1336.4,563.4 L1337.1,562.3 L1337.8,561.2 L1338.4,560.1 L1339.1,559.0 L1339.7,557.8 L1340.4,556.7 L1341.0,555.6 L1341.7,554.5 L1342.3,553.4 L1342.9,552.2 L1343.5,551.1 L1344.2,550.0 L1344.8,548.9 L1345.4,547.8 L1346.0,546.6 L1346.6,545.5 L1347.2,544.4 L1347.8,543.3 L1348.3,542.2 L1348.9,541.1 L1349.5,540.0 L1350.1,538.9 L1350.6,537.8 L1351.2,536.6 L1351.8,535.5 L1352.3,534.4 L1352.9,533.3 L1353.4,532.2 L1354.0,531.1 L1354.5,530.0 L1355.1,528.9 L1355.6,527.8 L1356.1,526.7 L1356.7,525.6 L1357.2,524.5 L1357.7,523.4 L1358.3,522.3 L1358.8,521.2 L1359.3,520.1 L1359.8,519.0 L1360.3,517.9 L1360.8,516.8 L1361.3,515.7 L1361.8,514.6 L1362.3,513.5 L1362.8,512.4 L1363.3,511.3 L1363.8,510.2 L1364.3,509.1 L1364.8,508.0 L1365.3,507.0 L1365.8,505.9 L1366.3,504.8 L1366.8,503.7 L1367.2,502.6 L1367.7,501.5 L1368.2,500.4 L1368.7,499.3 L1369.2,498.2 L1369.6,497.1 L1370.1,496.0 L1370.6,495.0 L1371.0,493.9 L1371.5,492.8 L1372.0,491.7 L1372.4,490.6 L1372.9,489.5 L1373.4,488.4 L1373.8,487.3 L1374.3,486.3 L1374.8,485.2 L1375.2,484.1 L1375.7,483.0 L1376.2,481.9 L1376.6,480.8 L1377.1,479.7 L1377.5,478.7 L1378.0,477.6 L1378.5,476.5 L1378.9,475.4 L1379.4,474.3 L1379.8,473.2 L1380.3,472.2 L1380.8,471.1 L1381.2,470.0 L1381.7,468.9 L1382.1,467.8 L1382.6,466.7 L1383.1,465.6 L1383.5,464.6 L1384.0,463.5 L1384.4,462.4 L1384.9,461.3 L1385.4,460.2 L1385.8,459.1 L1386.3,458.1 L1386.8,457.0 L1387.2,455.9 L1387.7,454.8 L1388.2,453.7 L1388.7,452.6 L1389.1,451.6 L1389.6,450.5 L1390.1,449.4 L1390.6,448.3 L1391.0,447.2 L1391.5,446.1 L1392.0,445.0 L1392.5,444.0 L1393.0,442.9 L1393.5,441.8 L1394.0,440.7 L1394.5,439.6 L1395.0,438.5 L1395.4,437.4 L1395.9,436.3 L1396.5,435.3 L1397.0,434.2 L1397.5,433.1 L1398.0,432.0 L1398.5,430.9 L1399.0,429.8 L1399.5,428.7 L1400.0,427.6 L1400.6,426.5 L1401.1,425.5 L1401.6,424.4 L1402.1,423.3 L1402.7,422.2 L1403.2,421.1 L1403.8,420.0 L1404.3,418.9 L1404.9,417.8 L1405.4,416.7 L1406.0,415.7 L1406.5,414.6 L1407.1,413.5 L1407.7,412.4 L1408.2,411.3 L1408.8,410.3 L1409.4,409.2 L1410.0,408.1 L1410.5,407.0 L1411.1,406.0 L1411.7,404.9 L1412.3,403.8 L1412.9,402.8 L1413.5,401.7 L1414.2,400.6 L1414.8,399.6 L1415.4,398.5 L1416.0,397.5 L1416.7,396.4 L1417.3,395.4 L1417.9,394.4 L1418.6,393.3 L1419.2,392.3 L1419.9,391.3 L1420.6,390.3 L1421.2,389.2 L1421.9,388.2 L1422.6,387.2 L1423.3,386.2 L1423.9,385.2 L1424.6,384.2 L1425.3,383.2 L1426.0,382.2 L1426.8,381.3 L1427.5,380.3 L1428.2,379.3 L1428.9,378.4 L1429.7,377.4 L1430.4,376.5 L1431.2,375.5 L1431.9,374.6 L1432.7,373.6 L1433.4,372.7 L1434.2,371.8 L1435.0,370.9 L1435.8,370.0 L1436.6,369.1 L1437.4,368.2 L1438.2,367.3 L1439.0,366.4 L1439.8,365.6 L1440.7,364.7 L1441.5,363.8 L1442.3,363.0 L1443.2,362.2 L1444.1,361.3 L1444.9,360.5 L1445.8,359.7 L1446.7,358.9 L1447.6,358.1 L1448.5,357.3 L1449.4,356.5 L1450.3,355.8 L1451.2,355.0 L1452.1,354.3 L1453.1,353.5 L1454.0,352.8 L1455.0,352.1 L1455.9,351.4 L1456.9,350.8 L1457.9,350.1 L1458.9,349.5 L1459.9,348.9 L1460.9,348.3 L1462.0,347.8 L1463.0,347.3 L1464.1,346.8 L1465.1,346.3 L1466.2,345.9 L1467.3,345.5 L1468.4,345.1 L1469.6,344.8 L1470.7,344.5 L1471.8,344.2 L1473.0,344.0 L1474.2,343.8 L1475.4,343.6 L1476.6,343.5 L1477.8,343.4 L1479.0,343.3 L1480.3,343.2 L1481.5,343.2 L1482.8,343.2 L1484.0,343.2 L1485.3,343.2 L1486.5,343.2 L1487.8,343.2 L1489.1,343.2 L1490.3,343.2 L1491.6,343.2 L1492.9,343.2 L1494.1,343.2 L1495.4,343.1 L1496.6,343.1 L1497.9,343.0 L1499.1,342.9 L1500.3,342.8 L1501.5,342.6 L1502.7,342.5 L1503.9,342.3 L1505.1,342.0 L1506.3,341.8 L1507.5,341.5 L1508.6,341.2 L1509.8,340.9 L1510.9,340.5 L1512.1,340.2 L1513.2,339.8 L1514.3,339.3 L1515.4,338.9 L1516.5,338.4 L1517.6,337.9 L1518.6,337.4 L1519.7,336.9 L1520.7,336.3 L1521.8,335.7 L1522.8,335.1 L1523.8,334.5 L1524.8,333.9 L1525.8,333.2 L1526.7,332.6 L1527.7,331.9 L1528.7,331.1 L1529.6,330.4 L1530.5,329.7 L1531.4,328.9 L1532.3,328.1 L1533.2,327.3 L1534.1,326.5 L1534.9,325.7 L1535.8,324.8 L1536.6,323.9 L1537.4,323.1 L1538.2,322.2 L1539.0,321.3 L1539.8,320.3 L1540.6,319.4 L1541.3,318.4 L1542.0,317.5 L1542.8,316.5 L1543.5,315.5 L1544.2,314.5 L1544.8,313.5 L1545.5,312.5 L1546.1,311.4 L1546.8,310.4 L1547.4,309.3 L1548.0,308.3 L1548.6,307.2 L1549.2,306.1 L1549.8,305.1 L1550.4,304.0 L1551.0,302.9 L1551.5,301.8 L1552.1,300.8 L1552.7,299.7 L1553.3,298.6 L1553.9,297.6 L1554.5,296.5 L1555.2,295.5 L1555.8,294.5 L1556.5,293.5 L1557.1,292.5 L1557.8,291.5 L1558.5,290.5 L1559.2,289.6 L1560.0,288.6 L1560.7,287.7 L1561.5,286.8 L1562.4,286.0 L1563.2,285.1 L1564.1,284.3 L1565.0,283.5" fill="none" stroke="#0000FF" stroke-width="8.8" stroke-dasharray="16.5 11.65" stroke-dashoffset="-2.3" stroke-linecap="butt"/>
<text x="202.5" y="71.7" class="t" transform="matrix(1 0 0 1.040 0 -2.87)">0</text>
<text x="154.6 194.6" y="203.8" class="t" transform="matrix(1 0 0 1.040 0 -8.15)"><tspan class="d">&#8211;</tspan>5</text>
<text x="128.3 169.2 205.9" y="336.8" class="t" transform="matrix(1 0 0 1.040 0 -13.47)"><tspan class="d">&#8211;</tspan>10</text>
<text x="128.3 169.6 207.6" y="469.3" class="t" transform="matrix(1 0 0 1.040 0 -18.77)"><tspan class="d">&#8211;</tspan>15</text>
<text x="128.3 166.6 205.9" y="602.0" class="t" transform="matrix(1 0 0 1.040 0 -24.08)"><tspan class="d">&#8211;</tspan>20</text>
<text x="128.6 167.3 208.1" y="734.0" class="t" transform="matrix(1 0 0 1.040 0 -29.36)"><tspan class="d">&#8211;</tspan>25</text>
<text x="128.5 165.9 207.3" y="866.5" class="t" transform="matrix(1 0 0 1.040 0 -34.66)"><tspan class="d">&#8211;</tspan>30</text>
<text x="125.6 165.9 204.6" y="998.0" class="t" transform="matrix(1 0 0 1.040 0 -39.92)"><tspan class="d">&#8211;</tspan>35</text>
<text x="118.5 158.8 196.6" y="1124.5" class="t" transform="matrix(1 0 0 1.040 0 -44.98)"><tspan class="d">&#8211;</tspan>40</text>
<text x="218.4" y="1172.6" class="t" font-size="78" transform="matrix(1 0 0 1.040 0 -46.90)">22</text>
<text x="326.0" y="1172.6" class="t" font-size="78" transform="matrix(1 0 0 1.040 0 -46.90)">24</text>
<text x="448.4" y="1172.6" class="t" font-size="78" transform="matrix(1 0 0 1.040 0 -46.90)">26</text>
<text x="565.3" y="1172.6" class="t" font-size="78" transform="matrix(1 0 0 1.040 0 -46.90)">28</text>
<text x="685.3" y="1172.6" class="t" font-size="78" transform="matrix(1 0 0 1.040 0 -46.90)">30</text>
<text x="809.6" y="1172.6" class="t" font-size="78" transform="matrix(1 0 0 1.040 0 -46.90)">32</text>
<text x="918.1" y="1172.6" class="t" font-size="78" transform="matrix(1 0 0 1.040 0 -46.90)">34</text>
<text x="1046.3" y="1172.6" class="t" font-size="78" transform="matrix(1 0 0 1.040 0 -46.90)">36</text>
<text x="1162.7" y="1172.6" class="t" font-size="78" transform="matrix(1 0 0 1.040 0 -46.90)">38</text>
<text x="1283.4" y="1172.6" class="t" font-size="78" transform="matrix(1 0 0 1.040 0 -46.90)">40</text>
<text x="1400.8" y="1172.6" class="t" font-size="78" transform="matrix(1 0 0 1.040 0 -46.90)">42</text>
<text x="1519.1" y="1172.6" class="t" font-size="78" transform="matrix(1 0 0 1.040 0 -46.90)">44</text>
<text x="566.6" y="1253" class="t" font-size="78.6" transform="matrix(1 0 0 1.040 0 -50.12)">Frequency (GHz)</text>
<text x="786.2" y="224.5" class="t s" transform="matrix(1 0 0 1.040 0 -8.98)">26.5 &#8211; 43.7 GHz</text>
<line x1="864" y1="838" x2="1061" y2="838" stroke="#FF0000" stroke-width="9"/>
<line x1="873" y1="952.4" x2="1062" y2="952.4" stroke="#0000FF" stroke-width="9" stroke-dasharray="18.8 9.6"/>
<text y="854.5" class="t s" transform="matrix(1 0 0 1.040 0 -34.18)"><tspan x="1098">|</tspan><tspan x="1111.6">S</tspan><tspan x="1157.5 1183.4" y="865.5" font-size="52">11</tspan><tspan x="1208" y="854.5">|</tspan><tspan x="1241">Sim.</tspan></text>
<text y="968.3" class="t s" transform="matrix(1 0 0 1.040 0 -38.73)"><tspan x="1095.8">|</tspan><tspan x="1111.6">S</tspan><tspan x="1157.5 1180.9" y="979.5" font-size="52">11</tspan><tspan x="1205.6" y="968.3">|</tspan><tspan x="1240.9">Mea.</tspan></text>
<g transform="translate(87,740.2) rotate(-90)"><text y="0" class="t" transform="matrix(1 0 0 1.040 0 0.00)"><tspan x="0">|</tspan><tspan x="15.8">S</tspan><tspan x="59.8 85.6" y="10.5" font-size="52">11</tspan><tspan x="110" y="0">|</tspan><tspan x="144.3">(</tspan><tspan x="170.7">d</tspan><tspan x="216.2">B</tspan><tspan x="262.4">)</tspan></text></g>
</g>
</svg>
</body></html>
